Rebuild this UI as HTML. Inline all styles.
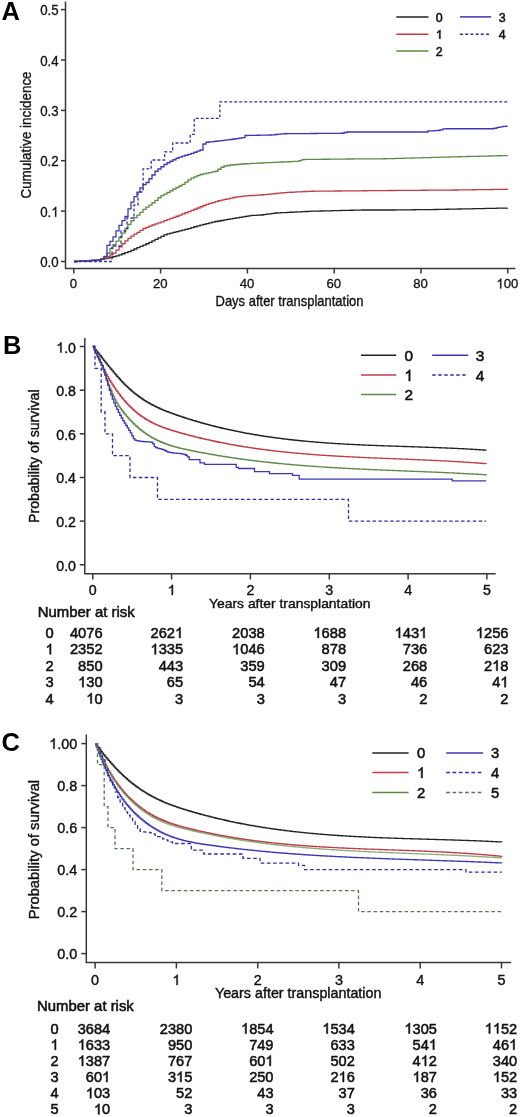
<!DOCTYPE html>
<html><head><meta charset="utf-8"><style>
html,body{margin:0;padding:0;background:#fff;width:520px;height:1117px;overflow:hidden;}
svg{display:block;will-change:transform;font-family:"Liberation Sans", sans-serif;}
</style></head><body>
<svg width="520" height="1117" viewBox="0 0 520 1117" font-family='"Liberation Sans", sans-serif'><rect width="520" height="1117" fill="#fff"/><text x="1.50" y="20.00" font-size="25.5" text-anchor="start" font-weight="bold" fill="#000">A</text>
<line x1="65.5" y1="1.5" x2="65.5" y2="268.5" stroke="#383838" stroke-width="1.5"/>
<line x1="65.0" y1="268.5" x2="515.5" y2="268.5" stroke="#383838" stroke-width="1.5"/>
<line x1="61.0" y1="261.5" x2="65.5" y2="261.5" stroke="#383838" stroke-width="1.5"/>
<g transform="translate(58.70 0) scale(0.95 1)">
<text x="0.00" y="267.20" font-size="14.0" text-anchor="end" fill="#111" stroke="#111" stroke-width="0.3">0.0</text>
</g>
<line x1="61.0" y1="211.1" x2="65.5" y2="211.1" stroke="#383838" stroke-width="1.5"/>
<g transform="translate(58.70 0) scale(0.95 1)">
<text x="0.00" y="216.82" font-size="14.0" text-anchor="end" fill="#111" stroke="#111" stroke-width="0.3">0. </text>
<path d="M583 0H763V1472H645Q598 1377 485 1276Q372 1175 221 1104V930Q306 961 412 1023Q518 1085 583 1147Z" transform="translate(-7.79 216.82) scale(0.006836 -0.006836)" fill="#111" stroke="#111" stroke-width="43.9"/>
</g>
<line x1="61.0" y1="160.7" x2="65.5" y2="160.7" stroke="#383838" stroke-width="1.5"/>
<g transform="translate(58.70 0) scale(0.95 1)">
<text x="0.00" y="166.44" font-size="14.0" text-anchor="end" fill="#111" stroke="#111" stroke-width="0.3">0.2</text>
</g>
<line x1="61.0" y1="110.4" x2="65.5" y2="110.4" stroke="#383838" stroke-width="1.5"/>
<g transform="translate(58.70 0) scale(0.95 1)">
<text x="0.00" y="116.06" font-size="14.0" text-anchor="end" fill="#111" stroke="#111" stroke-width="0.3">0.3</text>
</g>
<line x1="61.0" y1="60.0" x2="65.5" y2="60.0" stroke="#383838" stroke-width="1.5"/>
<g transform="translate(58.70 0) scale(0.95 1)">
<text x="0.00" y="65.68" font-size="14.0" text-anchor="end" fill="#111" stroke="#111" stroke-width="0.3">0.4</text>
</g>
<line x1="61.0" y1="9.6" x2="65.5" y2="9.6" stroke="#383838" stroke-width="1.5"/>
<g transform="translate(58.70 0) scale(0.95 1)">
<text x="0.00" y="15.30" font-size="14.0" text-anchor="end" fill="#111" stroke="#111" stroke-width="0.3">0.5</text>
</g>
<line x1="73.8" y1="268.5" x2="73.8" y2="273.5" stroke="#383838" stroke-width="1.5"/>
<g transform="translate(73.40 0) scale(0.97 1)">
<text x="0.00" y="288.40" font-size="13.6" text-anchor="middle" fill="#111" stroke="#111" stroke-width="0.3">0</text>
</g>
<line x1="160.6" y1="268.5" x2="160.6" y2="273.5" stroke="#383838" stroke-width="1.5"/>
<g transform="translate(160.20 0) scale(0.97 1)">
<text x="0.00" y="288.40" font-size="13.6" text-anchor="middle" fill="#111" stroke="#111" stroke-width="0.3">20</text>
</g>
<line x1="247.4" y1="268.5" x2="247.4" y2="273.5" stroke="#383838" stroke-width="1.5"/>
<g transform="translate(247.00 0) scale(0.97 1)">
<text x="0.00" y="288.40" font-size="13.6" text-anchor="middle" fill="#111" stroke="#111" stroke-width="0.3">40</text>
</g>
<line x1="334.2" y1="268.5" x2="334.2" y2="273.5" stroke="#383838" stroke-width="1.5"/>
<g transform="translate(333.80 0) scale(0.97 1)">
<text x="0.00" y="288.40" font-size="13.6" text-anchor="middle" fill="#111" stroke="#111" stroke-width="0.3">60</text>
</g>
<line x1="421.0" y1="268.5" x2="421.0" y2="273.5" stroke="#383838" stroke-width="1.5"/>
<g transform="translate(420.60 0) scale(0.97 1)">
<text x="0.00" y="288.40" font-size="13.6" text-anchor="middle" fill="#111" stroke="#111" stroke-width="0.3">80</text>
</g>
<line x1="507.8" y1="268.5" x2="507.8" y2="273.5" stroke="#383838" stroke-width="1.5"/>
<g transform="translate(507.40 0) scale(0.97 1)">
<text x="0.00" y="288.40" font-size="13.6" text-anchor="middle" fill="#111" stroke="#111" stroke-width="0.3"> 00</text>
<path d="M583 0H763V1472H645Q598 1377 485 1276Q372 1175 221 1104V930Q306 961 412 1023Q518 1085 583 1147Z" transform="translate(-11.35 288.40) scale(0.006641 -0.006641)" fill="#111" stroke="#111" stroke-width="45.2"/>
</g>
<text x="289.50" y="305.80" font-size="14.3" text-anchor="middle" textLength="148" lengthAdjust="spacingAndGlyphs" fill="#111" stroke="#111" stroke-width="0.35">Days after transplantation</text>
<text x="30.90" y="135.00" font-size="14.2" text-anchor="middle" textLength="127" lengthAdjust="spacingAndGlyphs" transform="rotate(-90 30.9 135.0)" fill="#111" stroke="#111" stroke-width="0.35">Cumulative incidence</text>
<line x1="396.3" y1="16.9" x2="428.5" y2="16.9" stroke="#222222" stroke-width="1.5"/>
<text x="439.20" y="21.50" font-size="12.4" text-anchor="middle" fill="#111" stroke="#111" stroke-width="0.55">0</text>
<line x1="396.3" y1="34.2" x2="428.5" y2="34.2" stroke="#c23c48" stroke-width="1.5"/>
<path d="M583 0H763V1472H645Q598 1377 485 1276Q372 1175 221 1104V930Q306 961 412 1023Q518 1085 583 1147Z" transform="translate(435.75 38.80) scale(0.006055 -0.006055)" fill="#111" stroke="#111" stroke-width="90.8"/>
<line x1="396.3" y1="50.9" x2="428.5" y2="50.9" stroke="#5e8a48" stroke-width="1.5"/>
<text x="439.20" y="55.50" font-size="12.4" text-anchor="middle" fill="#111" stroke="#111" stroke-width="0.55">2</text>
<line x1="460.0" y1="16.9" x2="491.3" y2="16.9" stroke="#3b37b2" stroke-width="1.5"/>
<text x="502.10" y="21.50" font-size="12.4" text-anchor="middle" fill="#111" stroke="#111" stroke-width="0.55">3</text>
<line x1="460.0" y1="34.3" x2="491.3" y2="34.3" stroke="#332f9e" stroke-width="1.5" stroke-dasharray="3,2.2"/>
<text x="502.10" y="38.90" font-size="12.4" text-anchor="middle" fill="#111" stroke="#111" stroke-width="0.55">4</text>
<path d="M74.00,261.50H77.00V261.33H80.00V261.16H83.00V260.99H86.00V260.81H89.00V260.64H92.00V260.47H95.00V260.30H98.00V259.77H101.00V259.24H104.00V258.72H107.00V258.10H110.00V257.34H113.00V256.58H116.00V255.83H119.00V254.82H122.00V253.76H125.00V252.71H128.00V251.60H131.00V250.29H134.00V248.98H137.00V247.68H140.00V246.37H143.00V245.05H146.00V243.73H149.00V242.40H152.00V240.92H155.00V239.44H158.00V237.94H161.00V236.42H164.00V234.91H167.00V233.92H170.00V233.21H173.00V232.47H176.00V231.72H179.00V230.96H182.00V230.21H185.00V229.45H188.00V228.56H191.00V227.67H194.00V226.77H197.00V225.88H200.00V225.05H203.00V224.29H206.00V223.54H209.00V222.78H212.00V222.03H215.00V221.51H218.00V220.99H221.00V220.48H224.00V219.97H227.00V219.45H230.00V218.90H233.00V218.36H236.00V217.83H239.00V217.33H242.00V216.83H245.00V216.33H248.00V215.83H251.00V215.45H254.00V215.30H257.00V215.15H260.00V215.00H263.00V214.60H266.00V214.20H269.00V213.80H272.00V213.40H275.00V213.00H278.00V212.85H281.00V212.70H284.00V212.55H287.00V212.40H290.00V212.25H293.00V212.10H296.00V211.95H299.00V211.80H302.00V211.65H305.00V211.50H308.00V211.35H311.00V211.22H314.00V211.15H317.00V211.07H320.00V211.00H323.00V210.93H326.00V210.85H329.00V210.78H332.00V210.70H335.00V210.62H338.00V210.55H341.00V210.47H344.00V210.40H347.00V210.32H350.00V210.25H353.00V210.18H356.00V210.10H359.00V210.03H362.00V210.00H365.00V210.00H368.00V210.00H371.00V210.00H374.00V210.00H377.00V210.00H380.00V210.00H383.00V210.00H386.00V210.00H389.00V210.00H392.00V209.98H395.00V209.94H398.00V209.91H401.00V209.88H404.00V209.84H407.00V209.81H410.00V209.78H413.00V209.74H416.00V209.71H419.00V209.68H422.00V209.64H425.00V209.61H428.00V209.58H431.00V209.54H434.00V209.51H437.00V209.46H440.00V209.40H443.00V209.33H446.00V209.27H449.00V209.21H452.00V209.15H455.00V209.09H458.00V209.02H461.00V208.96H464.00V208.90H467.00V208.84H470.00V208.78H473.00V208.71H476.00V208.65H479.00V208.59H482.00V208.53H485.00V208.47H488.00V208.40H491.00V208.34H494.00V208.28H497.00V208.22H500.00V208.16H503.00V208.09H506.00V208.03H507.50V208.00" fill="none" stroke="#222222" stroke-width="1.3" stroke-linejoin="miter" stroke-linecap="butt"/>
<path d="M74.00,261.50H77.00V261.36H80.00V261.21H83.00V261.07H86.00V260.93H89.00V260.79H92.00V260.64H95.00V260.50H98.00V259.61H101.00V258.72H104.00V257.83H107.00V256.60H110.00V254.83H113.00V253.07H116.00V250.11H119.00V246.73H122.00V243.75H125.00V240.88H128.00V238.46H131.00V236.04H134.00V234.17H137.00V232.36H140.00V230.46H143.00V228.50H146.00V227.29H149.00V226.08H152.00V225.01H155.00V223.94H158.00V222.89H161.00V221.82H164.00V220.68H167.00V219.56H170.00V218.45H173.00V217.34H176.00V216.23H179.00V215.10H182.00V213.93H185.00V212.76H188.00V211.58H191.00V210.41H194.00V209.23H197.00V208.00H200.00V206.75H203.00V205.50H206.00V204.32H209.00V203.43H212.00V202.53H215.00V201.63H218.00V200.74H221.00V200.04H224.00V199.41H227.00V198.78H230.00V198.15H233.00V197.52H236.00V196.97H239.00V196.58H242.00V196.19H245.00V195.80H248.00V195.64H251.00V195.48H254.00V195.32H257.00V195.16H260.00V195.00H263.00V194.70H266.00V194.40H269.00V194.10H272.00V193.80H275.00V193.50H278.00V193.20H281.00V192.90H284.00V192.60H287.00V192.40H290.00V192.25H293.00V192.10H296.00V191.95H299.00V191.80H302.00V191.65H305.00V191.50H308.00V191.35H311.00V191.24H314.00V191.21H317.00V191.18H320.00V191.16H323.00V191.13H326.00V191.10H329.00V191.07H332.00V191.04H335.00V191.02H338.00V190.99H341.00V190.96H344.00V190.93H347.00V190.90H350.00V190.88H353.00V190.85H356.00V190.82H359.00V190.79H362.00V190.76H365.00V190.73H368.00V190.71H371.00V190.68H374.00V190.65H377.00V190.62H380.00V190.59H383.00V190.57H386.00V190.54H389.00V190.51H392.00V190.48H395.00V190.46H398.00V190.44H401.00V190.42H404.00V190.39H407.00V190.37H410.00V190.35H413.00V190.32H416.00V190.30H419.00V190.28H422.00V190.25H425.00V190.23H428.00V190.21H431.00V190.18H434.00V190.16H437.00V190.14H440.00V190.12H443.00V190.09H446.00V190.07H449.00V190.05H452.00V190.02H455.00V190.00H458.00V189.96H461.00V189.91H464.00V189.87H467.00V189.83H470.00V189.79H473.00V189.74H476.00V189.70H479.00V189.66H482.00V189.61H485.00V189.57H488.00V189.53H491.00V189.49H494.00V189.44H497.00V189.40H500.00V189.36H503.00V189.31H506.00V189.27H507.50V189.25" fill="none" stroke="#c23c48" stroke-width="1.3" stroke-linejoin="miter" stroke-linecap="butt"/>
<path d="M74.00,261.50H77.00V261.27H80.00V261.04H83.00V260.81H86.00V260.58H89.00V260.35H92.00V260.12H95.00V259.88H98.00V259.65H101.00V258.76H104.00V256.53H107.00V253.27H110.00V248.46H113.00V244.68H116.00V241.15H119.00V237.24H122.00V233.05H125.00V228.55H128.00V224.43H131.00V220.74H134.00V217.60H137.00V215.04H140.00V212.41H143.00V209.47H146.00V207.09H149.00V205.07H152.00V202.77H155.00V200.33H158.00V197.74H161.00V195.54H164.00V194.16H167.00V192.52H170.00V190.76H173.00V189.00H176.00V187.50H179.00V186.00H182.00V184.28H185.00V182.11H188.00V179.94H191.00V178.10H194.00V176.90H197.00V175.70H200.00V174.50H203.00V173.85H206.00V173.20H209.00V172.55H212.00V171.90H215.00V171.25H218.00V169.25H221.00V167.25H224.00V166.00H227.00V165.50H230.00V165.00H233.00V164.75H236.00V164.50H239.00V164.25H242.00V164.00H245.00V163.75H248.00V163.60H251.00V163.45H254.00V163.30H257.00V163.15H260.00V163.00H263.00V162.86H266.00V162.72H269.00V162.58H272.00V162.44H275.00V162.30H278.00V162.16H281.00V162.02H284.00V161.88H287.00V161.74H290.00V161.60H293.00V161.46H296.00V161.32H299.00V160.72H302.00V159.68H305.00V159.47H308.00V159.44H311.00V159.41H314.00V159.37H317.00V159.34H320.00V159.31H323.00V159.27H326.00V159.24H329.00V159.21H332.00V159.17H335.00V159.14H338.00V159.11H341.00V159.07H344.00V159.04H347.00V159.01H350.00V158.98H353.00V158.96H356.00V158.94H359.00V158.92H362.00V158.90H365.00V158.88H368.00V158.86H371.00V158.84H374.00V158.82H377.00V158.80H380.00V158.78H383.00V158.76H386.00V158.72H389.00V158.64H392.00V158.55H395.00V158.47H398.00V158.39H401.00V158.30H404.00V158.22H407.00V158.13H410.00V158.05H413.00V157.97H416.00V157.88H419.00V157.80H422.00V157.71H425.00V157.63H428.00V157.55H431.00V157.46H434.00V157.38H437.00V157.29H440.00V157.21H443.00V157.13H446.00V157.04H449.00V156.96H452.00V156.89H455.00V156.81H458.00V156.74H461.00V156.66H464.00V156.59H467.00V156.51H470.00V156.44H473.00V156.36H476.00V156.29H479.00V156.21H482.00V156.14H485.00V156.06H488.00V155.99H491.00V155.91H494.00V155.84H497.00V155.76H500.00V155.69H503.00V155.61H506.00V155.54H507.50V155.50" fill="none" stroke="#5e8a48" stroke-width="1.3" stroke-linejoin="miter" stroke-linecap="butt"/>
<path d="M74.00,261.50H77.00V261.33H80.00V261.15H83.00V260.98H86.00V260.81H89.00V260.63H92.00V260.46H95.00V260.29H98.00V260.12H101.00V259.09H104.00V256.36H107.00V245.46H110.00V241.34H113.00V236.89H116.00V230.81H119.00V225.47H122.00V220.69H125.00V216.50H128.00V208.83H131.00V202.12H134.00V196.68H137.00V192.08H140.00V187.91H143.00V184.68H146.00V182.50H149.00V178.75H152.00V175.00H155.00V171.25H158.00V169.00H161.00V166.75H164.00V164.50H167.00V162.75H170.00V161.25H173.00V159.75H176.00V158.25H179.00V157.05H182.00V156.15H185.00V155.25H188.00V154.35H191.00V153.38H194.00V152.25H197.00V151.12H200.00V150.00H203.00V144.00H206.00V142.25H209.00V141.92H212.00V141.58H215.00V141.25H218.00V140.90H221.00V140.55H224.00V140.20H227.00V139.85H230.00V139.50H233.00V139.02H236.00V138.54H239.00V138.06H242.00V137.58H245.00V135.50H248.00V135.44H251.00V135.38H254.00V135.32H257.00V135.26H260.00V135.20H263.00V135.14H266.00V135.08H269.00V135.02H272.00V134.80H275.00V134.50H278.00V134.20H281.00V133.90H284.00V133.74H287.00V133.71H290.00V133.69H293.00V133.66H296.00V133.64H299.00V133.61H302.00V133.59H305.00V133.56H308.00V133.54H311.00V133.51H314.00V133.49H317.00V133.46H320.00V133.44H323.00V133.41H326.00V133.39H329.00V133.36H332.00V133.34H335.00V133.31H338.00V133.29H341.00V133.26H344.00V132.50H347.00V132.00H350.00V132.00H353.00V132.00H356.00V132.00H359.00V132.00H362.00V132.00H365.00V132.00H368.00V132.00H371.00V132.00H374.00V132.00H377.00V132.00H380.00V132.00H383.00V132.00H386.00V132.00H389.00V132.00H392.00V132.00H395.00V132.00H398.00V132.00H401.00V132.00H404.00V132.00H407.00V132.00H410.00V132.00H413.00V132.00H416.00V132.00H419.00V132.00H422.00V132.00H425.00V132.00H428.00V130.92H431.00V130.79H434.00V130.66H437.00V130.52H440.00V129.80H443.00V128.96H446.00V128.75H449.00V128.75H452.00V128.75H455.00V128.75H458.00V128.75H461.00V128.75H464.00V128.75H467.00V128.75H470.00V128.75H473.00V128.75H476.00V128.75H479.00V128.75H482.00V128.75H485.00V128.75H488.00V128.75H491.00V128.75H494.00V128.25H497.00V127.38H500.00V126.88H503.00V126.38H506.00V126.25H507.50V126.25" fill="none" stroke="#3b37b2" stroke-width="1.3" stroke-linejoin="miter" stroke-linecap="butt"/>
<path d="M74.0,261.5H112.0V246.0H121.0V231.0H127.0V218.0H134.0V205.0H138.0V192.0H143.1V168.9H151.2V160.0H164.6V151.9H172.7V143.0H190.2V134.4H194.2V118.3H219.8V101.8H507.8V101.8" fill="none" stroke="#332f9e" stroke-width="1.3" stroke-linejoin="miter" stroke-linecap="butt" stroke-dasharray="2.9,2.1"/>
<text x="3.00" y="353.60" font-size="25.5" text-anchor="start" font-weight="bold" fill="#000">B</text>
<line x1="84.8" y1="338.0" x2="84.8" y2="574.0" stroke="#383838" stroke-width="1.5"/>
<line x1="84.3" y1="573.8" x2="495.7" y2="573.8" stroke="#383838" stroke-width="1.5"/>
<line x1="79.8" y1="564.8" x2="84.8" y2="564.8" stroke="#383838" stroke-width="1.5"/>
<text x="76.00" y="570.80" font-size="14.2" text-anchor="end" fill="#111" stroke="#111" stroke-width="0.4">0.0</text>
<line x1="79.8" y1="521.1" x2="84.8" y2="521.1" stroke="#383838" stroke-width="1.5"/>
<text x="76.00" y="527.14" font-size="14.2" text-anchor="end" fill="#111" stroke="#111" stroke-width="0.4">0.2</text>
<line x1="79.8" y1="477.5" x2="84.8" y2="477.5" stroke="#383838" stroke-width="1.5"/>
<text x="76.00" y="483.48" font-size="14.2" text-anchor="end" fill="#111" stroke="#111" stroke-width="0.4">0.4</text>
<line x1="79.8" y1="433.8" x2="84.8" y2="433.8" stroke="#383838" stroke-width="1.5"/>
<text x="76.00" y="439.82" font-size="14.2" text-anchor="end" fill="#111" stroke="#111" stroke-width="0.4">0.6</text>
<line x1="79.8" y1="390.2" x2="84.8" y2="390.2" stroke="#383838" stroke-width="1.5"/>
<text x="76.00" y="396.16" font-size="14.2" text-anchor="end" fill="#111" stroke="#111" stroke-width="0.4">0.8</text>
<line x1="79.8" y1="346.5" x2="84.8" y2="346.5" stroke="#383838" stroke-width="1.5"/>
<text x="76.00" y="352.50" font-size="14.2" text-anchor="end" fill="#111" stroke="#111" stroke-width="0.4"> .0</text>
<path d="M583 0H763V1472H645Q598 1377 485 1276Q372 1175 221 1104V930Q306 961 412 1023Q518 1085 583 1147Z" transform="translate(56.26 352.50) scale(0.006934 -0.006934)" fill="#111" stroke="#111" stroke-width="57.7"/>
<line x1="92.8" y1="573.8" x2="92.8" y2="579.5" stroke="#383838" stroke-width="1.5"/>
<text x="92.80" y="595.00" font-size="14.2" text-anchor="middle" fill="#111" stroke="#111" stroke-width="0.4">0</text>
<line x1="171.6" y1="573.8" x2="171.6" y2="579.5" stroke="#383838" stroke-width="1.5"/>
<path d="M583 0H763V1472H645Q598 1377 485 1276Q372 1175 221 1104V930Q306 961 412 1023Q518 1085 583 1147Z" transform="translate(167.67 595.00) scale(0.006934 -0.006934)" fill="#111" stroke="#111" stroke-width="57.7"/>
<line x1="250.4" y1="573.8" x2="250.4" y2="579.5" stroke="#383838" stroke-width="1.5"/>
<text x="250.44" y="595.00" font-size="14.2" text-anchor="middle" fill="#111" stroke="#111" stroke-width="0.4">2</text>
<line x1="329.3" y1="573.8" x2="329.3" y2="579.5" stroke="#383838" stroke-width="1.5"/>
<text x="329.26" y="595.00" font-size="14.2" text-anchor="middle" fill="#111" stroke="#111" stroke-width="0.4">3</text>
<line x1="408.1" y1="573.8" x2="408.1" y2="579.5" stroke="#383838" stroke-width="1.5"/>
<text x="408.08" y="595.00" font-size="14.2" text-anchor="middle" fill="#111" stroke="#111" stroke-width="0.4">4</text>
<line x1="486.9" y1="573.8" x2="486.9" y2="579.5" stroke="#383838" stroke-width="1.5"/>
<text x="486.90" y="595.00" font-size="14.2" text-anchor="middle" fill="#111" stroke="#111" stroke-width="0.4">5</text>
<text x="289.80" y="607.80" font-size="13.6" text-anchor="middle" textLength="161.5" lengthAdjust="spacingAndGlyphs" fill="#111" stroke="#111" stroke-width="0.4">Years after transplantation</text>
<text x="38.90" y="456.20" font-size="14" text-anchor="middle" textLength="133.5" lengthAdjust="spacingAndGlyphs" transform="rotate(-90 38.9 456.2)" fill="#111" stroke="#111" stroke-width="0.4">Probability of survival</text>
<text x="37.80" y="616.90" font-size="14.9" text-anchor="start" fill="#111" stroke="#111" stroke-width="0.55">Number at risk</text>
<text x="49.60" y="637.90" font-size="14.7" text-anchor="middle" fill="#111" stroke="#111" stroke-width="0.55">0</text>
<text x="102.60" y="637.90" font-size="14.7" text-anchor="end" fill="#111" stroke="#111" stroke-width="0.55">4076</text>
<text x="183.20" y="637.90" font-size="14.7" text-anchor="end" fill="#111" stroke="#111" stroke-width="0.55">262 </text>
<path d="M583 0H763V1472H645Q598 1377 485 1276Q372 1175 221 1104V930Q306 961 412 1023Q518 1085 583 1147Z" transform="translate(175.02 637.90) scale(0.007178 -0.007178)" fill="#111" stroke="#111" stroke-width="76.6"/>
<text x="264.80" y="637.90" font-size="14.7" text-anchor="end" fill="#111" stroke="#111" stroke-width="0.55">2038</text>
<text x="346.10" y="637.90" font-size="14.7" text-anchor="end" fill="#111" stroke="#111" stroke-width="0.55"> 688</text>
<path d="M583 0H763V1472H645Q598 1377 485 1276Q372 1175 221 1104V930Q306 961 412 1023Q518 1085 583 1147Z" transform="translate(313.40 637.90) scale(0.007178 -0.007178)" fill="#111" stroke="#111" stroke-width="76.6"/>
<text x="427.30" y="637.90" font-size="14.7" text-anchor="end" fill="#111" stroke="#111" stroke-width="0.55"> 43 </text>
<path d="M583 0H763V1472H645Q598 1377 485 1276Q372 1175 221 1104V930Q306 961 412 1023Q518 1085 583 1147Z" transform="translate(394.60 637.90) scale(0.007178 -0.007178)" fill="#111" stroke="#111" stroke-width="76.6"/>
<path d="M583 0H763V1472H645Q598 1377 485 1276Q372 1175 221 1104V930Q306 961 412 1023Q518 1085 583 1147Z" transform="translate(419.12 637.90) scale(0.007178 -0.007178)" fill="#111" stroke="#111" stroke-width="76.6"/>
<text x="508.50" y="637.90" font-size="14.7" text-anchor="end" fill="#111" stroke="#111" stroke-width="0.55"> 256</text>
<path d="M583 0H763V1472H645Q598 1377 485 1276Q372 1175 221 1104V930Q306 961 412 1023Q518 1085 583 1147Z" transform="translate(475.80 637.90) scale(0.007178 -0.007178)" fill="#111" stroke="#111" stroke-width="76.6"/>
<path d="M583 0H763V1472H645Q598 1377 485 1276Q372 1175 221 1104V930Q306 961 412 1023Q518 1085 583 1147Z" transform="translate(45.51 654.32) scale(0.007178 -0.007178)" fill="#111" stroke="#111" stroke-width="76.6"/>
<text x="102.60" y="654.32" font-size="14.7" text-anchor="end" fill="#111" stroke="#111" stroke-width="0.55">2352</text>
<text x="183.20" y="654.32" font-size="14.7" text-anchor="end" fill="#111" stroke="#111" stroke-width="0.55"> 335</text>
<path d="M583 0H763V1472H645Q598 1377 485 1276Q372 1175 221 1104V930Q306 961 412 1023Q518 1085 583 1147Z" transform="translate(150.50 654.32) scale(0.007178 -0.007178)" fill="#111" stroke="#111" stroke-width="76.6"/>
<text x="264.80" y="654.32" font-size="14.7" text-anchor="end" fill="#111" stroke="#111" stroke-width="0.55"> 046</text>
<path d="M583 0H763V1472H645Q598 1377 485 1276Q372 1175 221 1104V930Q306 961 412 1023Q518 1085 583 1147Z" transform="translate(232.10 654.32) scale(0.007178 -0.007178)" fill="#111" stroke="#111" stroke-width="76.6"/>
<text x="346.10" y="654.32" font-size="14.7" text-anchor="end" fill="#111" stroke="#111" stroke-width="0.55">878</text>
<text x="427.30" y="654.32" font-size="14.7" text-anchor="end" fill="#111" stroke="#111" stroke-width="0.55">736</text>
<text x="508.50" y="654.32" font-size="14.7" text-anchor="end" fill="#111" stroke="#111" stroke-width="0.55">623</text>
<text x="49.60" y="670.74" font-size="14.7" text-anchor="middle" fill="#111" stroke="#111" stroke-width="0.55">2</text>
<text x="102.60" y="670.74" font-size="14.7" text-anchor="end" fill="#111" stroke="#111" stroke-width="0.55">850</text>
<text x="183.20" y="670.74" font-size="14.7" text-anchor="end" fill="#111" stroke="#111" stroke-width="0.55">443</text>
<text x="264.80" y="670.74" font-size="14.7" text-anchor="end" fill="#111" stroke="#111" stroke-width="0.55">359</text>
<text x="346.10" y="670.74" font-size="14.7" text-anchor="end" fill="#111" stroke="#111" stroke-width="0.55">309</text>
<text x="427.30" y="670.74" font-size="14.7" text-anchor="end" fill="#111" stroke="#111" stroke-width="0.55">268</text>
<text x="508.50" y="670.74" font-size="14.7" text-anchor="end" fill="#111" stroke="#111" stroke-width="0.55">2 8</text>
<path d="M583 0H763V1472H645Q598 1377 485 1276Q372 1175 221 1104V930Q306 961 412 1023Q518 1085 583 1147Z" transform="translate(492.15 670.74) scale(0.007178 -0.007178)" fill="#111" stroke="#111" stroke-width="76.6"/>
<text x="49.60" y="687.16" font-size="14.7" text-anchor="middle" fill="#111" stroke="#111" stroke-width="0.55">3</text>
<text x="102.60" y="687.16" font-size="14.7" text-anchor="end" fill="#111" stroke="#111" stroke-width="0.55"> 30</text>
<path d="M583 0H763V1472H645Q598 1377 485 1276Q372 1175 221 1104V930Q306 961 412 1023Q518 1085 583 1147Z" transform="translate(78.07 687.16) scale(0.007178 -0.007178)" fill="#111" stroke="#111" stroke-width="76.6"/>
<text x="183.20" y="687.16" font-size="14.7" text-anchor="end" fill="#111" stroke="#111" stroke-width="0.55">65</text>
<text x="264.80" y="687.16" font-size="14.7" text-anchor="end" fill="#111" stroke="#111" stroke-width="0.55">54</text>
<text x="346.10" y="687.16" font-size="14.7" text-anchor="end" fill="#111" stroke="#111" stroke-width="0.55">47</text>
<text x="427.30" y="687.16" font-size="14.7" text-anchor="end" fill="#111" stroke="#111" stroke-width="0.55">46</text>
<text x="508.50" y="687.16" font-size="14.7" text-anchor="end" fill="#111" stroke="#111" stroke-width="0.55">4 </text>
<path d="M583 0H763V1472H645Q598 1377 485 1276Q372 1175 221 1104V930Q306 961 412 1023Q518 1085 583 1147Z" transform="translate(500.32 687.16) scale(0.007178 -0.007178)" fill="#111" stroke="#111" stroke-width="76.6"/>
<text x="49.60" y="703.58" font-size="14.7" text-anchor="middle" fill="#111" stroke="#111" stroke-width="0.55">4</text>
<text x="102.60" y="703.58" font-size="14.7" text-anchor="end" fill="#111" stroke="#111" stroke-width="0.55"> 0</text>
<path d="M583 0H763V1472H645Q598 1377 485 1276Q372 1175 221 1104V930Q306 961 412 1023Q518 1085 583 1147Z" transform="translate(86.25 703.58) scale(0.007178 -0.007178)" fill="#111" stroke="#111" stroke-width="76.6"/>
<text x="183.20" y="703.58" font-size="14.7" text-anchor="end" fill="#111" stroke="#111" stroke-width="0.55">3</text>
<text x="264.80" y="703.58" font-size="14.7" text-anchor="end" fill="#111" stroke="#111" stroke-width="0.55">3</text>
<text x="346.10" y="703.58" font-size="14.7" text-anchor="end" fill="#111" stroke="#111" stroke-width="0.55">3</text>
<text x="427.30" y="703.58" font-size="14.7" text-anchor="end" fill="#111" stroke="#111" stroke-width="0.55">2</text>
<text x="508.50" y="703.58" font-size="14.7" text-anchor="end" fill="#111" stroke="#111" stroke-width="0.55">2</text>
<line x1="361.0" y1="355.2" x2="396.2" y2="355.2" stroke="#222222" stroke-width="1.5"/>
<text x="408.70" y="361.10" font-size="15.4" text-anchor="middle" fill="#111" stroke="#111" stroke-width="0.55">0</text>
<line x1="361.0" y1="375.0" x2="396.2" y2="375.0" stroke="#c23c48" stroke-width="1.5"/>
<path d="M583 0H763V1472H645Q598 1377 485 1276Q372 1175 221 1104V930Q306 961 412 1023Q518 1085 583 1147Z" transform="translate(404.42 380.90) scale(0.007520 -0.007520)" fill="#111" stroke="#111" stroke-width="73.1"/>
<line x1="361.0" y1="394.5" x2="396.2" y2="394.5" stroke="#5e8a48" stroke-width="1.5"/>
<text x="408.70" y="400.40" font-size="15.4" text-anchor="middle" fill="#111" stroke="#111" stroke-width="0.55">2</text>
<line x1="432.2" y1="355.2" x2="468.3" y2="355.2" stroke="#3b37b2" stroke-width="1.5"/>
<text x="480.00" y="361.10" font-size="15.4" text-anchor="middle" fill="#111" stroke="#111" stroke-width="0.55">3</text>
<line x1="432.2" y1="375.0" x2="468.3" y2="375.0" stroke="#332f9e" stroke-width="1.5" stroke-dasharray="3.5,2.5"/>
<text x="480.00" y="380.90" font-size="15.4" text-anchor="middle" fill="#111" stroke="#111" stroke-width="0.55">4</text>
<path d="M92.80,346.50H94.00V348.02H95.20V349.56H96.40V351.10H97.60V352.64H98.80V354.18H100.00V355.72H101.20V357.26H102.40V358.79H103.60V360.31H104.80V361.83H106.00V363.34H107.20V364.84H108.40V366.33H109.60V367.80H110.80V369.26H112.00V370.71H113.20V372.14H114.40V373.56H115.60V374.95H116.80V376.33H118.00V377.68H119.20V379.01H120.40V380.32H121.60V381.60H122.80V382.86H124.00V384.08H125.20V385.28H126.40V386.45H127.60V387.59H128.80V388.70H130.00V389.77H131.20V390.82H132.40V391.84H133.60V392.83H134.80V393.79H136.00V394.72H137.20V395.63H138.40V396.52H139.60V397.37H140.80V398.21H142.00V399.02H143.20V399.80H144.40V400.57H145.60V401.31H146.80V402.03H148.00V402.74H149.20V403.42H150.40V404.08H151.60V404.73H152.80V405.35H154.00V405.96H155.20V406.56H156.40V407.14H157.60V407.70H158.80V408.25H160.00V408.79H161.20V409.31H162.40V409.82H163.60V410.32H164.80V410.81H166.00V411.28H167.20V411.75H168.40V412.21H169.60V412.66H170.80V413.10H172.00V413.54H173.20V413.97H174.40V414.40H175.60V414.81H176.80V415.23H178.00V415.64H179.20V416.05H180.40V416.45H181.60V416.85H182.80V417.25H184.00V417.64H185.20V418.03H186.40V418.41H187.60V418.79H188.80V419.17H190.00V419.54H191.20V419.91H192.40V420.28H193.60V420.64H194.80V421.00H196.00V421.35H197.20V421.71H198.40V422.05H199.60V422.40H200.80V422.74H202.00V423.08H203.20V423.41H204.40V423.74H205.60V424.07H206.80V424.39H208.00V424.71H209.20V425.03H210.40V425.34H211.60V425.65H212.80V425.96H214.00V426.26H215.20V426.56H216.40V426.86H217.60V427.15H218.80V427.44H220.00V427.73H221.20V428.01H222.40V428.29H223.60V428.57H224.80V428.85H226.00V429.12H227.20V429.39H228.40V429.65H229.60V429.91H230.80V430.17H232.00V430.43H233.20V430.68H234.40V430.93H235.60V431.18H236.80V431.43H238.00V431.67H239.20V431.91H240.40V432.14H241.60V432.38H242.80V432.61H244.00V432.83H245.20V433.06H246.40V433.28H247.60V433.50H248.80V433.72H250.00V433.93H251.20V434.14H252.40V434.35H253.60V434.56H254.80V434.76H256.00V434.96H257.20V435.16H258.40V435.35H259.60V435.55H260.80V435.74H262.00V435.93H263.20V436.11H264.40V436.30H265.60V436.48H266.80V436.65H268.00V436.83H269.20V437.00H270.40V437.18H271.60V437.35H272.80V437.51H274.00V437.68H275.20V437.84H276.40V438.00H277.60V438.16H278.80V438.31H280.00V438.47H281.20V438.62H282.40V438.77H283.60V438.91H284.80V439.06H286.00V439.20H287.20V439.34H288.40V439.48H289.60V439.62H290.80V439.75H292.00V439.89H293.20V440.02H294.40V440.15H295.60V440.27H296.80V440.40H298.00V440.52H299.20V440.64H300.40V440.76H301.60V440.88H302.80V441.00H304.00V441.11H305.20V441.22H306.40V441.33H307.60V441.44H308.80V441.55H310.00V441.66H311.20V441.76H312.40V441.86H313.60V441.96H314.80V442.06H316.00V442.16H317.20V442.26H318.40V442.35H319.60V442.45H320.80V442.54H322.00V442.63H323.20V442.72H324.40V442.80H325.60V442.89H326.80V442.98H328.00V443.06H329.20V443.14H330.40V443.22H331.60V443.30H332.80V443.38H334.00V443.46H335.20V443.53H336.40V443.61H337.60V443.68H338.80V443.75H340.00V443.82H341.20V443.89H342.40V443.96H343.60V444.03H344.80V444.10H346.00V444.16H347.20V444.23H348.40V444.29H349.60V444.35H350.80V444.41H352.00V444.47H353.20V444.53H354.40V444.59H355.60V444.65H356.80V444.71H358.00V444.76H359.20V444.82H360.40V444.87H361.60V444.93H362.80V444.98H364.00V445.03H365.20V445.09H366.40V445.14H367.60V445.19H368.80V445.24H370.00V445.28H371.20V445.33H372.40V445.38H373.60V445.43H374.80V445.47H376.00V445.52H377.20V445.57H378.40V445.61H379.60V445.66H380.80V445.70H382.00V445.74H383.20V445.79H384.40V445.83H385.60V445.87H386.80V445.92H388.00V445.96H389.20V446.00H390.40V446.04H391.60V446.08H392.80V446.12H394.00V446.16H395.20V446.20H396.40V446.24H397.60V446.28H398.80V446.32H400.00V446.36H401.20V446.40H402.40V446.44H403.60V446.48H404.80V446.52H406.00V446.56H407.20V446.60H408.40V446.64H409.60V446.68H410.80V446.72H412.00V446.76H413.20V446.80H414.40V446.84H415.60V446.88H416.80V446.92H418.00V446.96H419.20V447.00H420.40V447.04H421.60V447.08H422.80V447.12H424.00V447.16H425.20V447.21H426.40V447.25H427.60V447.29H428.80V447.33H430.00V447.38H431.20V447.42H432.40V447.46H433.60V447.51H434.80V447.55H436.00V447.60H437.20V447.65H438.40V447.69H439.60V447.74H440.80V447.79H442.00V447.84H443.20V447.89H444.40V447.93H445.60V447.98H446.80V448.04H448.00V448.09H449.20V448.14H450.40V448.19H451.60V448.25H452.80V448.30H454.00V448.36H455.20V448.41H456.40V448.47H457.60V448.53H458.80V448.59H460.00V448.65H461.20V448.71H462.40V448.77H463.60V448.83H464.80V448.90H466.00V448.96H467.20V449.03H468.40V449.09H469.60V449.16H470.80V449.23H472.00V449.30H473.20V449.37H474.40V449.44H475.60V449.51H476.80V449.59H478.00V449.67H479.20V449.74H480.40V449.82H481.60V449.90H482.80V449.98H484.00V450.06H485.20V450.15H486.20V450.22" fill="none" stroke="#222222" stroke-width="1.3" stroke-linejoin="miter" stroke-linecap="butt"/>
<path d="M92.80,346.50H94.00V349.36H95.20V352.16H96.40V354.89H97.60V357.55H98.80V360.14H100.00V362.66H101.20V365.11H102.40V367.50H103.60V369.83H104.80V372.09H106.00V374.29H107.20V376.43H108.40V378.51H109.60V380.54H110.80V382.50H112.00V384.41H113.20V386.26H114.40V388.06H115.60V389.80H116.80V391.50H118.00V393.14H119.20V394.73H120.40V396.27H121.60V397.77H122.80V399.22H124.00V400.62H125.20V401.98H126.40V403.29H127.60V404.57H128.80V405.80H130.00V406.99H131.20V408.14H132.40V409.26H133.60V410.33H134.80V411.37H136.00V412.37H137.20V413.34H138.40V414.28H139.60V415.18H140.80V416.05H142.00V416.89H143.20V417.70H144.40V418.48H145.60V419.23H146.80V419.96H148.00V420.65H149.20V421.33H150.40V421.98H151.60V422.60H152.80V423.20H154.00V423.78H155.20V424.34H156.40V424.88H157.60V425.41H158.80V425.91H160.00V426.40H161.20V426.87H162.40V427.32H163.60V427.77H164.80V428.20H166.00V428.61H167.20V429.02H168.40V429.41H169.60V429.80H170.80V430.17H172.00V430.54H173.20V430.91H174.40V431.26H175.60V431.62H176.80V431.97H178.00V432.31H179.20V432.65H180.40V432.99H181.60V433.33H182.80V433.66H184.00V433.99H185.20V434.32H186.40V434.64H187.60V434.96H188.80V435.28H190.00V435.59H191.20V435.90H192.40V436.21H193.60V436.51H194.80V436.81H196.00V437.11H197.20V437.41H198.40V437.70H199.60V437.99H200.80V438.27H202.00V438.56H203.20V438.84H204.40V439.12H205.60V439.39H206.80V439.66H208.00V439.93H209.20V440.20H210.40V440.46H211.60V440.72H212.80V440.98H214.00V441.24H215.20V441.49H216.40V441.74H217.60V441.99H218.80V442.23H220.00V442.47H221.20V442.71H222.40V442.95H223.60V443.18H224.80V443.41H226.00V443.64H227.20V443.87H228.40V444.09H229.60V444.31H230.80V444.53H232.00V444.75H233.20V444.96H234.40V445.17H235.60V445.38H236.80V445.59H238.00V445.79H239.20V445.99H240.40V446.19H241.60V446.39H242.80V446.59H244.00V446.78H245.20V446.97H246.40V447.16H247.60V447.34H248.80V447.53H250.00V447.71H251.20V447.89H252.40V448.06H253.60V448.24H254.80V448.41H256.00V448.58H257.20V448.75H258.40V448.92H259.60V449.08H260.80V449.24H262.00V449.40H263.20V449.56H264.40V449.72H265.60V449.87H266.80V450.02H268.00V450.17H269.20V450.32H270.40V450.47H271.60V450.61H272.80V450.76H274.00V450.90H275.20V451.04H276.40V451.17H277.60V451.31H278.80V451.44H280.00V451.57H281.20V451.70H282.40V451.83H283.60V451.96H284.80V452.08H286.00V452.21H287.20V452.33H288.40V452.45H289.60V452.57H290.80V452.69H292.00V452.80H293.20V452.92H294.40V453.03H295.60V453.14H296.80V453.25H298.00V453.36H299.20V453.46H300.40V453.57H301.60V453.67H302.80V453.77H304.00V453.87H305.20V453.97H306.40V454.07H307.60V454.17H308.80V454.26H310.00V454.36H311.20V454.45H312.40V454.54H313.60V454.63H314.80V454.72H316.00V454.81H317.20V454.89H318.40V454.98H319.60V455.06H320.80V455.15H322.00V455.23H323.20V455.31H324.40V455.39H325.60V455.47H326.80V455.55H328.00V455.62H329.20V455.70H330.40V455.77H331.60V455.85H332.80V455.92H334.00V455.99H335.20V456.06H336.40V456.13H337.60V456.20H338.80V456.27H340.00V456.33H341.20V456.40H342.40V456.47H343.60V456.53H344.80V456.60H346.00V456.66H347.20V456.72H348.40V456.78H349.60V456.84H350.80V456.90H352.00V456.96H353.20V457.02H354.40V457.08H355.60V457.14H356.80V457.20H358.00V457.25H359.20V457.31H360.40V457.36H361.60V457.42H362.80V457.47H364.00V457.53H365.20V457.58H366.40V457.63H367.60V457.69H368.80V457.74H370.00V457.79H371.20V457.84H372.40V457.89H373.60V457.94H374.80V457.99H376.00V458.04H377.20V458.09H378.40V458.14H379.60V458.19H380.80V458.24H382.00V458.29H383.20V458.34H384.40V458.39H385.60V458.44H386.80V458.48H388.00V458.53H389.20V458.58H390.40V458.63H391.60V458.67H392.80V458.72H394.00V458.77H395.20V458.82H396.40V458.86H397.60V458.91H398.80V458.96H400.00V459.01H401.20V459.05H402.40V459.10H403.60V459.15H404.80V459.20H406.00V459.25H407.20V459.29H408.40V459.34H409.60V459.39H410.80V459.44H412.00V459.49H413.20V459.54H414.40V459.59H415.60V459.64H416.80V459.69H418.00V459.74H419.20V459.79H420.40V459.84H421.60V459.89H422.80V459.94H424.00V460.00H425.20V460.05H426.40V460.10H427.60V460.16H428.80V460.21H430.00V460.26H431.20V460.32H432.40V460.38H433.60V460.43H434.80V460.49H436.00V460.55H437.20V460.60H438.40V460.66H439.60V460.72H440.80V460.78H442.00V460.84H443.20V460.90H444.40V460.97H445.60V461.03H446.80V461.09H448.00V461.16H449.20V461.22H450.40V461.29H451.60V461.35H452.80V461.42H454.00V461.49H455.20V461.56H456.40V461.63H457.60V461.70H458.80V461.77H460.00V461.85H461.20V461.92H462.40V461.99H463.60V462.07H464.80V462.15H466.00V462.22H467.20V462.30H468.40V462.38H469.60V462.47H470.80V462.55H472.00V462.63H473.20V462.72H474.40V462.80H475.60V462.89H476.80V462.98H478.00V463.07H479.20V463.16H480.40V463.25H481.60V463.34H482.80V463.44H484.00V463.53H485.20V463.63H486.20V463.71" fill="none" stroke="#c23c48" stroke-width="1.3" stroke-linejoin="miter" stroke-linecap="butt"/>
<path d="M92.80,346.50H94.00V348.46H95.20V350.73H96.40V353.27H97.60V356.04H98.80V358.99H100.00V362.10H101.20V365.33H102.40V368.64H103.60V371.98H104.80V375.34H106.00V378.66H107.20V381.91H108.40V385.06H109.60V388.09H110.80V391.00H112.00V393.78H113.20V396.41H114.40V398.89H115.60V401.21H116.80V403.36H118.00V405.33H119.20V407.16H120.40V408.86H121.60V410.47H122.80V412.01H124.00V413.50H125.20V414.95H126.40V416.36H127.60V417.73H128.80V419.06H130.00V420.35H131.20V421.59H132.40V422.80H133.60V423.98H134.80V425.11H136.00V426.21H137.20V427.27H138.40V428.30H139.60V429.30H140.80V430.26H142.00V431.19H143.20V432.09H144.40V432.95H145.60V433.79H146.80V434.60H148.00V435.38H149.20V436.13H150.40V436.85H151.60V437.55H152.80V438.22H154.00V438.87H155.20V439.49H156.40V440.09H157.60V440.67H158.80V441.22H160.00V441.76H161.20V442.27H162.40V442.76H163.60V443.24H164.80V443.70H166.00V444.13H167.20V444.56H168.40V444.96H169.60V445.35H170.80V445.73H172.00V446.09H173.20V446.45H174.40V446.78H175.60V447.11H176.80V447.43H178.00V447.73H179.20V448.03H180.40V448.32H181.60V448.60H182.80V448.87H184.00V449.14H185.20V449.40H186.40V449.66H187.60V449.91H188.80V450.16H190.00V450.41H191.20V450.66H192.40V450.90H193.60V451.14H194.80V451.38H196.00V451.62H197.20V451.85H198.40V452.08H199.60V452.31H200.80V452.54H202.00V452.77H203.20V452.99H204.40V453.22H205.60V453.44H206.80V453.65H208.00V453.87H209.20V454.08H210.40V454.30H211.60V454.51H212.80V454.72H214.00V454.92H215.20V455.13H216.40V455.33H217.60V455.53H218.80V455.73H220.00V455.92H221.20V456.12H222.40V456.31H223.60V456.50H224.80V456.69H226.00V456.88H227.20V457.06H228.40V457.25H229.60V457.43H230.80V457.61H232.00V457.79H233.20V457.96H234.40V458.14H235.60V458.31H236.80V458.48H238.00V458.65H239.20V458.82H240.40V458.99H241.60V459.15H242.80V459.31H244.00V459.47H245.20V459.63H246.40V459.79H247.60V459.95H248.80V460.10H250.00V460.25H251.20V460.41H252.40V460.56H253.60V460.70H254.80V460.85H256.00V460.99H257.20V461.14H258.40V461.28H259.60V461.42H260.80V461.56H262.00V461.70H263.20V461.83H264.40V461.97H265.60V462.10H266.80V462.23H268.00V462.36H269.20V462.49H270.40V462.62H271.60V462.75H272.80V462.87H274.00V462.99H275.20V463.12H276.40V463.24H277.60V463.36H278.80V463.48H280.00V463.59H281.20V463.71H282.40V463.82H283.60V463.93H284.80V464.05H286.00V464.16H287.20V464.27H288.40V464.37H289.60V464.48H290.80V464.59H292.00V464.69H293.20V464.79H294.40V464.90H295.60V465.00H296.80V465.10H298.00V465.20H299.20V465.29H300.40V465.39H301.60V465.49H302.80V465.58H304.00V465.67H305.20V465.77H306.40V465.86H307.60V465.95H308.80V466.04H310.00V466.13H311.20V466.21H312.40V466.30H313.60V466.38H314.80V466.47H316.00V466.55H317.20V466.64H318.40V466.72H319.60V466.80H320.80V466.88H322.00V466.96H323.20V467.03H324.40V467.11H325.60V467.19H326.80V467.26H328.00V467.34H329.20V467.41H330.40V467.49H331.60V467.56H332.80V467.63H334.00V467.70H335.20V467.77H336.40V467.84H337.60V467.91H338.80V467.98H340.00V468.05H341.20V468.11H342.40V468.18H343.60V468.24H344.80V468.31H346.00V468.37H347.20V468.44H348.40V468.50H349.60V468.56H350.80V468.62H352.00V468.68H353.20V468.74H354.40V468.80H355.60V468.86H356.80V468.92H358.00V468.98H359.20V469.04H360.40V469.10H361.60V469.15H362.80V469.21H364.00V469.27H365.20V469.32H366.40V469.38H367.60V469.43H368.80V469.49H370.00V469.54H371.20V469.59H372.40V469.65H373.60V469.70H374.80V469.75H376.00V469.80H377.20V469.86H378.40V469.91H379.60V469.96H380.80V470.01H382.00V470.06H383.20V470.11H384.40V470.16H385.60V470.21H386.80V470.26H388.00V470.31H389.20V470.36H390.40V470.41H391.60V470.46H392.80V470.51H394.00V470.56H395.20V470.60H396.40V470.65H397.60V470.70H398.80V470.75H400.00V470.80H401.20V470.85H402.40V470.89H403.60V470.94H404.80V470.99H406.00V471.04H407.20V471.09H408.40V471.13H409.60V471.18H410.80V471.23H412.00V471.28H413.20V471.33H414.40V471.37H415.60V471.42H416.80V471.47H418.00V471.52H419.20V471.57H420.40V471.62H421.60V471.66H422.80V471.71H424.00V471.76H425.20V471.81H426.40V471.86H427.60V471.91H428.80V471.96H430.00V472.01H431.20V472.06H432.40V472.11H433.60V472.16H434.80V472.21H436.00V472.26H437.20V472.31H438.40V472.37H439.60V472.42H440.80V472.47H442.00V472.52H443.20V472.58H444.40V472.63H445.60V472.68H446.80V472.74H448.00V472.79H449.20V472.85H450.40V472.90H451.60V472.96H452.80V473.02H454.00V473.07H455.20V473.13H456.40V473.19H457.60V473.25H458.80V473.30H460.00V473.36H461.20V473.42H462.40V473.48H463.60V473.54H464.80V473.61H466.00V473.67H467.20V473.73H468.40V473.79H469.60V473.86H470.80V473.92H472.00V473.99H473.20V474.05H474.40V474.12H475.60V474.19H476.80V474.25H478.00V474.32H479.20V474.39H480.40V474.46H481.60V474.53H482.80V474.60H484.00V474.68H485.20V474.75H486.20V474.81" fill="none" stroke="#5e8a48" stroke-width="1.3" stroke-linejoin="miter" stroke-linecap="butt"/>
<path d="M92.80,346.50H94.30V350.01H95.80V353.40H97.30V356.66H98.80V359.66H100.30V362.41H101.80V365.47H103.30V369.46H104.80V374.63H106.30V380.17H107.80V385.30H109.30V390.27H110.80V394.94H112.30V399.07H113.80V402.85H115.30V406.29H116.80V409.46H118.30V412.43H119.80V415.25H121.30V417.98H122.80V420.58H124.30V423.07H125.80V425.50H127.30V427.91H128.80V430.33H130.30V432.82H131.80V435.87H133.30V438.69H134.80V440.07H136.30V440.54H137.80V440.88H139.30V441.13H140.80V441.32H142.30V441.50H143.80V441.65H145.30V441.74H146.80V441.81H148.30V441.90H149.80V442.04H151.30V442.26H152.80V443.94H154.30V446.63H155.80V447.55H157.30V448.14H158.80V448.58H160.30V448.95H161.80V449.33H163.30V449.81H164.80V450.48H166.30V451.35H167.80V452.09H169.30V452.46H170.80V452.71H172.30V452.90H173.80V453.05H175.30V453.19H176.80V453.32H178.30V453.47H179.80V453.65H181.30V453.88H182.80V454.14H184.30V454.50H185.80V455.24H187.30V456.51H187.70V456.90H189.2V459.7H200V462.8H204.6V464.4H236.2V467.4H238.5V468.5H254.5V471.7H269.5V473.7H292.5V475.4H299.2V479.1H452.3V480.9H486.2" fill="none" stroke="#3b37b2" stroke-width="1.3" stroke-linejoin="miter" stroke-linecap="butt"/>
<path d="M92.8,346.5H95.0V368.3H101.2V412.0H105.0V433.8H112.5V455.7H130.0V477.5H157.5V499.3H348.5V521.1H486.2V521.1" fill="none" stroke="#332f9e" stroke-width="1.3" stroke-linejoin="miter" stroke-linecap="butt" stroke-dasharray="3.5,2.4"/>
<text x="1.50" y="750.60" font-size="25.5" text-anchor="start" font-weight="bold" fill="#000">C</text>
<line x1="86.3" y1="734.5" x2="86.3" y2="962.8" stroke="#383838" stroke-width="1.5"/>
<line x1="85.8" y1="962.5" x2="511.2" y2="962.5" stroke="#383838" stroke-width="1.5"/>
<line x1="81.3" y1="953.6" x2="86.3" y2="953.6" stroke="#383838" stroke-width="1.5"/>
<text x="77.30" y="958.70" font-size="14.4" text-anchor="end" fill="#111" stroke="#111" stroke-width="0.4">0.0</text>
<line x1="81.3" y1="911.6" x2="86.3" y2="911.6" stroke="#383838" stroke-width="1.5"/>
<text x="77.30" y="916.70" font-size="14.4" text-anchor="end" fill="#111" stroke="#111" stroke-width="0.4">0.2</text>
<line x1="81.3" y1="869.6" x2="86.3" y2="869.6" stroke="#383838" stroke-width="1.5"/>
<text x="77.30" y="874.70" font-size="14.4" text-anchor="end" fill="#111" stroke="#111" stroke-width="0.4">0.4</text>
<line x1="81.3" y1="827.6" x2="86.3" y2="827.6" stroke="#383838" stroke-width="1.5"/>
<text x="77.30" y="832.70" font-size="14.4" text-anchor="end" fill="#111" stroke="#111" stroke-width="0.4">0.6</text>
<line x1="81.3" y1="785.6" x2="86.3" y2="785.6" stroke="#383838" stroke-width="1.5"/>
<text x="77.30" y="790.70" font-size="14.4" text-anchor="end" fill="#111" stroke="#111" stroke-width="0.4">0.8</text>
<line x1="81.3" y1="743.6" x2="86.3" y2="743.6" stroke="#383838" stroke-width="1.5"/>
<text x="77.30" y="748.70" font-size="14.4" text-anchor="end" fill="#111" stroke="#111" stroke-width="0.4"> .00</text>
<path d="M583 0H763V1472H645Q598 1377 485 1276Q372 1175 221 1104V930Q306 961 412 1023Q518 1085 583 1147Z" transform="translate(49.27 748.70) scale(0.007031 -0.007031)" fill="#111" stroke="#111" stroke-width="56.9"/>
<line x1="95.1" y1="962.5" x2="95.1" y2="968.4" stroke="#383838" stroke-width="1.5"/>
<text x="95.10" y="985.00" font-size="14.4" text-anchor="middle" fill="#111" stroke="#111" stroke-width="0.4">0</text>
<line x1="176.4" y1="962.5" x2="176.4" y2="968.4" stroke="#383838" stroke-width="1.5"/>
<path d="M583 0H763V1472H645Q598 1377 485 1276Q372 1175 221 1104V930Q306 961 412 1023Q518 1085 583 1147Z" transform="translate(172.38 985.00) scale(0.007031 -0.007031)" fill="#111" stroke="#111" stroke-width="56.9"/>
<line x1="257.7" y1="962.5" x2="257.7" y2="968.4" stroke="#383838" stroke-width="1.5"/>
<text x="257.66" y="985.00" font-size="14.4" text-anchor="middle" fill="#111" stroke="#111" stroke-width="0.4">2</text>
<line x1="338.9" y1="962.5" x2="338.9" y2="968.4" stroke="#383838" stroke-width="1.5"/>
<text x="338.94" y="985.00" font-size="14.4" text-anchor="middle" fill="#111" stroke="#111" stroke-width="0.4">3</text>
<line x1="420.2" y1="962.5" x2="420.2" y2="968.4" stroke="#383838" stroke-width="1.5"/>
<text x="420.22" y="985.00" font-size="14.4" text-anchor="middle" fill="#111" stroke="#111" stroke-width="0.4">4</text>
<line x1="501.5" y1="962.5" x2="501.5" y2="968.4" stroke="#383838" stroke-width="1.5"/>
<text x="501.50" y="985.00" font-size="14.4" text-anchor="middle" fill="#111" stroke="#111" stroke-width="0.4">5</text>
<text x="298.20" y="998.20" font-size="13.8" text-anchor="middle" textLength="166.5" lengthAdjust="spacingAndGlyphs" fill="#111" stroke="#111" stroke-width="0.4">Years after transplantation</text>
<text x="39.20" y="849.60" font-size="14.2" text-anchor="middle" textLength="139.5" lengthAdjust="spacingAndGlyphs" transform="rotate(-90 39.2 849.6)" fill="#111" stroke="#111" stroke-width="0.4">Probability of survival</text>
<text x="37.00" y="1011.10" font-size="14.9" text-anchor="start" fill="#111" stroke="#111" stroke-width="0.55">Number at risk</text>
<text x="54.60" y="1033.60" font-size="14.6" text-anchor="middle" fill="#111" stroke="#111" stroke-width="0.55">0</text>
<text x="110.20" y="1033.60" font-size="14.6" text-anchor="end" fill="#111" stroke="#111" stroke-width="0.55">3684</text>
<text x="192.30" y="1033.60" font-size="14.6" text-anchor="end" fill="#111" stroke="#111" stroke-width="0.55">2380</text>
<text x="273.50" y="1033.60" font-size="14.6" text-anchor="end" fill="#111" stroke="#111" stroke-width="0.55"> 854</text>
<path d="M583 0H763V1472H645Q598 1377 485 1276Q372 1175 221 1104V930Q306 961 412 1023Q518 1085 583 1147Z" transform="translate(241.02 1033.60) scale(0.007129 -0.007129)" fill="#111" stroke="#111" stroke-width="77.2"/>
<text x="354.80" y="1033.60" font-size="14.6" text-anchor="end" fill="#111" stroke="#111" stroke-width="0.55"> 534</text>
<path d="M583 0H763V1472H645Q598 1377 485 1276Q372 1175 221 1104V930Q306 961 412 1023Q518 1085 583 1147Z" transform="translate(322.32 1033.60) scale(0.007129 -0.007129)" fill="#111" stroke="#111" stroke-width="77.2"/>
<text x="436.90" y="1033.60" font-size="14.6" text-anchor="end" fill="#111" stroke="#111" stroke-width="0.55"> 305</text>
<path d="M583 0H763V1472H645Q598 1377 485 1276Q372 1175 221 1104V930Q306 961 412 1023Q518 1085 583 1147Z" transform="translate(404.42 1033.60) scale(0.007129 -0.007129)" fill="#111" stroke="#111" stroke-width="77.2"/>
<text x="517.20" y="1033.60" font-size="14.6" text-anchor="end" fill="#111" stroke="#111" stroke-width="0.55">  52</text>
<path d="M583 0H763V1472H645Q598 1377 485 1276Q372 1175 221 1104V930Q306 961 412 1023Q518 1085 583 1147Z" transform="translate(484.72 1033.60) scale(0.007129 -0.007129)" fill="#111" stroke="#111" stroke-width="77.2"/>
<path d="M583 0H763V1472H645Q598 1377 485 1276Q372 1175 221 1104V930Q306 961 412 1023Q518 1085 583 1147Z" transform="translate(492.84 1033.60) scale(0.007129 -0.007129)" fill="#111" stroke="#111" stroke-width="77.2"/>
<path d="M583 0H763V1472H645Q598 1377 485 1276Q372 1175 221 1104V930Q306 961 412 1023Q518 1085 583 1147Z" transform="translate(50.54 1049.75) scale(0.007129 -0.007129)" fill="#111" stroke="#111" stroke-width="77.2"/>
<text x="110.20" y="1049.75" font-size="14.6" text-anchor="end" fill="#111" stroke="#111" stroke-width="0.55"> 633</text>
<path d="M583 0H763V1472H645Q598 1377 485 1276Q372 1175 221 1104V930Q306 961 412 1023Q518 1085 583 1147Z" transform="translate(77.72 1049.75) scale(0.007129 -0.007129)" fill="#111" stroke="#111" stroke-width="77.2"/>
<text x="192.30" y="1049.75" font-size="14.6" text-anchor="end" fill="#111" stroke="#111" stroke-width="0.55">950</text>
<text x="273.50" y="1049.75" font-size="14.6" text-anchor="end" fill="#111" stroke="#111" stroke-width="0.55">749</text>
<text x="354.80" y="1049.75" font-size="14.6" text-anchor="end" fill="#111" stroke="#111" stroke-width="0.55">633</text>
<text x="436.90" y="1049.75" font-size="14.6" text-anchor="end" fill="#111" stroke="#111" stroke-width="0.55">54 </text>
<path d="M583 0H763V1472H645Q598 1377 485 1276Q372 1175 221 1104V930Q306 961 412 1023Q518 1085 583 1147Z" transform="translate(428.78 1049.75) scale(0.007129 -0.007129)" fill="#111" stroke="#111" stroke-width="77.2"/>
<text x="517.20" y="1049.75" font-size="14.6" text-anchor="end" fill="#111" stroke="#111" stroke-width="0.55">46 </text>
<path d="M583 0H763V1472H645Q598 1377 485 1276Q372 1175 221 1104V930Q306 961 412 1023Q518 1085 583 1147Z" transform="translate(509.08 1049.75) scale(0.007129 -0.007129)" fill="#111" stroke="#111" stroke-width="77.2"/>
<text x="54.60" y="1065.90" font-size="14.6" text-anchor="middle" fill="#111" stroke="#111" stroke-width="0.55">2</text>
<text x="110.20" y="1065.90" font-size="14.6" text-anchor="end" fill="#111" stroke="#111" stroke-width="0.55"> 387</text>
<path d="M583 0H763V1472H645Q598 1377 485 1276Q372 1175 221 1104V930Q306 961 412 1023Q518 1085 583 1147Z" transform="translate(77.72 1065.90) scale(0.007129 -0.007129)" fill="#111" stroke="#111" stroke-width="77.2"/>
<text x="192.30" y="1065.90" font-size="14.6" text-anchor="end" fill="#111" stroke="#111" stroke-width="0.55">767</text>
<text x="273.50" y="1065.90" font-size="14.6" text-anchor="end" fill="#111" stroke="#111" stroke-width="0.55">60 </text>
<path d="M583 0H763V1472H645Q598 1377 485 1276Q372 1175 221 1104V930Q306 961 412 1023Q518 1085 583 1147Z" transform="translate(265.38 1065.90) scale(0.007129 -0.007129)" fill="#111" stroke="#111" stroke-width="77.2"/>
<text x="354.80" y="1065.90" font-size="14.6" text-anchor="end" fill="#111" stroke="#111" stroke-width="0.55">502</text>
<text x="436.90" y="1065.90" font-size="14.6" text-anchor="end" fill="#111" stroke="#111" stroke-width="0.55">4 2</text>
<path d="M583 0H763V1472H645Q598 1377 485 1276Q372 1175 221 1104V930Q306 961 412 1023Q518 1085 583 1147Z" transform="translate(420.66 1065.90) scale(0.007129 -0.007129)" fill="#111" stroke="#111" stroke-width="77.2"/>
<text x="517.20" y="1065.90" font-size="14.6" text-anchor="end" fill="#111" stroke="#111" stroke-width="0.55">340</text>
<text x="54.60" y="1082.05" font-size="14.6" text-anchor="middle" fill="#111" stroke="#111" stroke-width="0.55">3</text>
<text x="110.20" y="1082.05" font-size="14.6" text-anchor="end" fill="#111" stroke="#111" stroke-width="0.55">60 </text>
<path d="M583 0H763V1472H645Q598 1377 485 1276Q372 1175 221 1104V930Q306 961 412 1023Q518 1085 583 1147Z" transform="translate(102.08 1082.05) scale(0.007129 -0.007129)" fill="#111" stroke="#111" stroke-width="77.2"/>
<text x="192.30" y="1082.05" font-size="14.6" text-anchor="end" fill="#111" stroke="#111" stroke-width="0.55">3 5</text>
<path d="M583 0H763V1472H645Q598 1377 485 1276Q372 1175 221 1104V930Q306 961 412 1023Q518 1085 583 1147Z" transform="translate(176.06 1082.05) scale(0.007129 -0.007129)" fill="#111" stroke="#111" stroke-width="77.2"/>
<text x="273.50" y="1082.05" font-size="14.6" text-anchor="end" fill="#111" stroke="#111" stroke-width="0.55">250</text>
<text x="354.80" y="1082.05" font-size="14.6" text-anchor="end" fill="#111" stroke="#111" stroke-width="0.55">2 6</text>
<path d="M583 0H763V1472H645Q598 1377 485 1276Q372 1175 221 1104V930Q306 961 412 1023Q518 1085 583 1147Z" transform="translate(338.56 1082.05) scale(0.007129 -0.007129)" fill="#111" stroke="#111" stroke-width="77.2"/>
<text x="436.90" y="1082.05" font-size="14.6" text-anchor="end" fill="#111" stroke="#111" stroke-width="0.55"> 87</text>
<path d="M583 0H763V1472H645Q598 1377 485 1276Q372 1175 221 1104V930Q306 961 412 1023Q518 1085 583 1147Z" transform="translate(412.54 1082.05) scale(0.007129 -0.007129)" fill="#111" stroke="#111" stroke-width="77.2"/>
<text x="517.20" y="1082.05" font-size="14.6" text-anchor="end" fill="#111" stroke="#111" stroke-width="0.55"> 52</text>
<path d="M583 0H763V1472H645Q598 1377 485 1276Q372 1175 221 1104V930Q306 961 412 1023Q518 1085 583 1147Z" transform="translate(492.84 1082.05) scale(0.007129 -0.007129)" fill="#111" stroke="#111" stroke-width="77.2"/>
<text x="54.60" y="1098.20" font-size="14.6" text-anchor="middle" fill="#111" stroke="#111" stroke-width="0.55">4</text>
<text x="110.20" y="1098.20" font-size="14.6" text-anchor="end" fill="#111" stroke="#111" stroke-width="0.55"> 03</text>
<path d="M583 0H763V1472H645Q598 1377 485 1276Q372 1175 221 1104V930Q306 961 412 1023Q518 1085 583 1147Z" transform="translate(85.84 1098.20) scale(0.007129 -0.007129)" fill="#111" stroke="#111" stroke-width="77.2"/>
<text x="192.30" y="1098.20" font-size="14.6" text-anchor="end" fill="#111" stroke="#111" stroke-width="0.55">52</text>
<text x="273.50" y="1098.20" font-size="14.6" text-anchor="end" fill="#111" stroke="#111" stroke-width="0.55">43</text>
<text x="354.80" y="1098.20" font-size="14.6" text-anchor="end" fill="#111" stroke="#111" stroke-width="0.55">37</text>
<text x="436.90" y="1098.20" font-size="14.6" text-anchor="end" fill="#111" stroke="#111" stroke-width="0.55">36</text>
<text x="517.20" y="1098.20" font-size="14.6" text-anchor="end" fill="#111" stroke="#111" stroke-width="0.55">33</text>
<text x="54.60" y="1114.35" font-size="14.6" text-anchor="middle" fill="#111" stroke="#111" stroke-width="0.55">5</text>
<text x="110.20" y="1114.35" font-size="14.6" text-anchor="end" fill="#111" stroke="#111" stroke-width="0.55"> 0</text>
<path d="M583 0H763V1472H645Q598 1377 485 1276Q372 1175 221 1104V930Q306 961 412 1023Q518 1085 583 1147Z" transform="translate(93.96 1114.35) scale(0.007129 -0.007129)" fill="#111" stroke="#111" stroke-width="77.2"/>
<text x="192.30" y="1114.35" font-size="14.6" text-anchor="end" fill="#111" stroke="#111" stroke-width="0.55">3</text>
<text x="273.50" y="1114.35" font-size="14.6" text-anchor="end" fill="#111" stroke="#111" stroke-width="0.55">3</text>
<text x="354.80" y="1114.35" font-size="14.6" text-anchor="end" fill="#111" stroke="#111" stroke-width="0.55">3</text>
<text x="436.90" y="1114.35" font-size="14.6" text-anchor="end" fill="#111" stroke="#111" stroke-width="0.55">2</text>
<text x="517.20" y="1114.35" font-size="14.6" text-anchor="end" fill="#111" stroke="#111" stroke-width="0.55">2</text>
<line x1="372.3" y1="753.0" x2="408.6" y2="753.0" stroke="#222222" stroke-width="1.5"/>
<text x="421.10" y="758.40" font-size="14.8" text-anchor="middle" fill="#111" stroke="#111" stroke-width="0.55">0</text>
<line x1="372.3" y1="772.5" x2="408.6" y2="772.5" stroke="#c23c48" stroke-width="1.5"/>
<path d="M583 0H763V1472H645Q598 1377 485 1276Q372 1175 221 1104V930Q306 961 412 1023Q518 1085 583 1147Z" transform="translate(416.98 777.90) scale(0.007227 -0.007227)" fill="#111" stroke="#111" stroke-width="76.1"/>
<line x1="372.3" y1="792.5" x2="408.6" y2="792.5" stroke="#5e8a48" stroke-width="1.5"/>
<text x="421.10" y="797.90" font-size="14.8" text-anchor="middle" fill="#111" stroke="#111" stroke-width="0.55">2</text>
<line x1="446.2" y1="753.0" x2="483.1" y2="753.0" stroke="#3b37b2" stroke-width="1.5"/>
<text x="495.00" y="758.40" font-size="14.8" text-anchor="middle" fill="#111" stroke="#111" stroke-width="0.55">3</text>
<line x1="446.2" y1="772.5" x2="483.1" y2="772.5" stroke="#332f9e" stroke-width="1.5" stroke-dasharray="3.7,2.6"/>
<text x="495.00" y="777.90" font-size="14.8" text-anchor="middle" fill="#111" stroke="#111" stroke-width="0.55">4</text>
<line x1="446.2" y1="792.5" x2="483.1" y2="792.5" stroke="#587650" stroke-width="1.5" stroke-dasharray="3.7,2.6"/>
<text x="495.00" y="797.90" font-size="14.8" text-anchor="middle" fill="#111" stroke="#111" stroke-width="0.55">5</text>
<path d="M95.10,743.60H96.30V745.20H97.50V746.83H98.70V748.43H99.90V750.00H101.10V751.56H102.30V753.09H103.50V754.59H104.70V756.07H105.90V757.53H107.10V758.96H108.30V760.38H109.50V761.76H110.70V763.13H111.90V764.47H113.10V765.79H114.30V767.08H115.50V768.35H116.70V769.60H117.90V770.82H119.10V772.03H120.30V773.21H121.50V774.36H122.70V775.49H123.90V776.61H125.10V777.69H126.30V778.76H127.50V779.80H128.70V780.82H129.90V781.82H131.10V782.80H132.30V783.75H133.50V784.68H134.70V785.59H135.90V786.48H137.10V787.35H138.30V788.20H139.50V789.03H140.70V789.84H141.90V790.63H143.10V791.40H144.30V792.15H145.50V792.89H146.70V793.61H147.90V794.31H149.10V795.00H150.30V795.66H151.50V796.32H152.70V796.96H153.90V797.58H155.10V798.19H156.30V798.78H157.50V799.36H158.70V799.93H159.90V800.48H161.10V801.02H162.30V801.55H163.50V802.07H164.70V802.58H165.90V803.07H167.10V803.55H168.30V804.03H169.50V804.49H170.70V804.95H171.90V805.39H173.10V805.83H174.30V806.26H175.50V806.68H176.70V807.09H177.90V807.50H179.10V807.90H180.30V808.29H181.50V808.67H182.70V809.06H183.90V809.43H185.10V809.80H186.30V810.17H187.50V810.53H188.70V810.89H189.90V811.25H191.10V811.60H192.30V811.95H193.50V812.30H194.70V812.64H195.90V812.98H197.10V813.32H198.30V813.65H199.50V813.98H200.70V814.31H201.90V814.64H203.10V814.96H204.30V815.28H205.50V815.59H206.70V815.90H207.90V816.21H209.10V816.52H210.30V816.82H211.50V817.12H212.70V817.42H213.90V817.72H215.10V818.01H216.30V818.30H217.50V818.58H218.70V818.87H219.90V819.15H221.10V819.42H222.30V819.70H223.50V819.97H224.70V820.24H225.90V820.51H227.10V820.77H228.30V821.03H229.50V821.29H230.70V821.54H231.90V821.80H233.10V822.05H234.30V822.29H235.50V822.54H236.70V822.78H237.90V823.02H239.10V823.26H240.30V823.49H241.50V823.73H242.70V823.95H243.90V824.18H245.10V824.41H246.30V824.63H247.50V824.85H248.70V825.07H249.90V825.28H251.10V825.49H252.30V825.70H253.50V825.91H254.70V826.11H255.90V826.32H257.10V826.52H258.30V826.72H259.50V826.91H260.70V827.11H261.90V827.30H263.10V827.49H264.30V827.67H265.50V827.86H266.70V828.04H267.90V828.22H269.10V828.40H270.30V828.57H271.50V828.75H272.70V828.92H273.90V829.09H275.10V829.26H276.30V829.42H277.50V829.59H278.70V829.75H279.90V829.91H281.10V830.06H282.30V830.22H283.50V830.37H284.70V830.52H285.90V830.67H287.10V830.82H288.30V830.97H289.50V831.11H290.70V831.25H291.90V831.39H293.10V831.53H294.30V831.67H295.50V831.80H296.70V831.93H297.90V832.06H299.10V832.19H300.30V832.32H301.50V832.45H302.70V832.57H303.90V832.69H305.10V832.81H306.30V832.93H307.50V833.05H308.70V833.16H309.90V833.28H311.10V833.39H312.30V833.50H313.50V833.61H314.70V833.72H315.90V833.83H317.10V833.93H318.30V834.03H319.50V834.13H320.70V834.24H321.90V834.33H323.10V834.43H324.30V834.53H325.50V834.62H326.70V834.71H327.90V834.81H329.10V834.90H330.30V834.99H331.50V835.07H332.70V835.16H333.90V835.25H335.10V835.33H336.30V835.41H337.50V835.49H338.70V835.57H339.90V835.65H341.10V835.73H342.30V835.81H343.50V835.88H344.70V835.96H345.90V836.03H347.10V836.10H348.30V836.17H349.50V836.24H350.70V836.31H351.90V836.38H353.10V836.45H354.30V836.51H355.50V836.58H356.70V836.64H357.90V836.70H359.10V836.76H360.30V836.82H361.50V836.88H362.70V836.94H363.90V837.00H365.10V837.06H366.30V837.12H367.50V837.17H368.70V837.23H369.90V837.28H371.10V837.33H372.30V837.39H373.50V837.44H374.70V837.49H375.90V837.54H377.10V837.59H378.30V837.64H379.50V837.69H380.70V837.73H381.90V837.78H383.10V837.83H384.30V837.87H385.50V837.92H386.70V837.96H387.90V838.00H389.10V838.05H390.30V838.09H391.50V838.13H392.70V838.18H393.90V838.22H395.10V838.26H396.30V838.30H397.50V838.34H398.70V838.38H399.90V838.42H401.10V838.46H402.30V838.49H403.50V838.53H404.70V838.57H405.90V838.61H407.10V838.65H408.30V838.68H409.50V838.72H410.70V838.76H411.90V838.79H413.10V838.83H414.30V838.86H415.50V838.90H416.70V838.93H417.90V838.97H419.10V839.00H420.30V839.04H421.50V839.07H422.70V839.11H423.90V839.14H425.10V839.18H426.30V839.21H427.50V839.25H428.70V839.28H429.90V839.32H431.10V839.35H432.30V839.39H433.50V839.42H434.70V839.46H435.90V839.49H437.10V839.53H438.30V839.56H439.50V839.60H440.70V839.63H441.90V839.67H443.10V839.70H444.30V839.74H445.50V839.78H446.70V839.81H447.90V839.85H449.10V839.89H450.30V839.92H451.50V839.96H452.70V840.00H453.90V840.04H455.10V840.08H456.30V840.12H457.50V840.16H458.70V840.20H459.90V840.24H461.10V840.28H462.30V840.32H463.50V840.36H464.70V840.40H465.90V840.44H467.10V840.49H468.30V840.53H469.50V840.57H470.70V840.62H471.90V840.66H473.10V840.71H474.30V840.76H475.50V840.80H476.70V840.85H477.90V840.90H479.10V840.95H480.30V841.00H481.50V841.05H482.70V841.10H483.90V841.15H485.10V841.21H486.30V841.26H487.50V841.31H488.70V841.37H489.90V841.43H491.10V841.48H492.30V841.54H493.50V841.60H494.70V841.66H495.90V841.72H497.10V841.78H498.30V841.84H499.50V841.91H500.70V841.97H501.80V842.03" fill="none" stroke="#222222" stroke-width="1.3" stroke-linejoin="miter" stroke-linecap="butt"/>
<path d="M95.10,743.60H96.30V746.09H97.50V748.64H98.70V751.21H99.90V753.78H101.10V756.33H102.30V758.84H103.50V761.30H104.70V763.68H105.90V765.99H107.10V768.21H108.30V770.37H109.50V772.45H110.70V774.46H111.90V776.40H113.10V778.27H114.30V780.08H115.50V781.83H116.70V783.51H117.90V785.14H119.10V786.72H120.30V788.23H121.50V789.70H122.70V791.12H123.90V792.50H125.10V793.82H126.30V795.11H127.50V796.36H128.70V797.57H129.90V798.75H131.10V799.89H132.30V801.00H133.50V802.08H134.70V803.13H135.90V804.15H137.10V805.14H138.30V806.11H139.50V807.04H140.70V807.95H141.90V808.83H143.10V809.68H144.30V810.51H145.50V811.31H146.70V812.09H147.90V812.85H149.10V813.58H150.30V814.29H151.50V814.97H152.70V815.64H153.90V816.28H155.10V816.90H156.30V817.51H157.50V818.09H158.70V818.66H159.90V819.21H161.10V819.74H162.30V820.25H163.50V820.75H164.70V821.24H165.90V821.70H167.10V822.16H168.30V822.60H169.50V823.03H170.70V823.44H171.90V823.84H173.10V824.23H174.30V824.61H175.50V824.98H176.70V825.35H177.90V825.70H179.10V826.04H180.30V826.38H181.50V826.71H182.70V827.03H183.90V827.34H185.10V827.66H186.30V827.96H187.50V828.26H188.70V828.56H189.90V828.86H191.10V829.15H192.30V829.44H193.50V829.73H194.70V830.01H195.90V830.29H197.10V830.57H198.30V830.84H199.50V831.11H200.70V831.38H201.90V831.65H203.10V831.91H204.30V832.17H205.50V832.43H206.70V832.68H207.90V832.94H209.10V833.18H210.30V833.43H211.50V833.67H212.70V833.92H213.90V834.15H215.10V834.39H216.30V834.62H217.50V834.85H218.70V835.08H219.90V835.31H221.10V835.53H222.30V835.75H223.50V835.97H224.70V836.18H225.90V836.39H227.10V836.60H228.30V836.81H229.50V837.02H230.70V837.22H231.90V837.42H233.10V837.62H234.30V837.81H235.50V838.01H236.70V838.20H237.90V838.39H239.10V838.57H240.30V838.76H241.50V838.94H242.70V839.12H243.90V839.30H245.10V839.47H246.30V839.64H247.50V839.81H248.70V839.98H249.90V840.15H251.10V840.31H252.30V840.48H253.50V840.64H254.70V840.79H255.90V840.95H257.10V841.10H258.30V841.26H259.50V841.41H260.70V841.55H261.90V841.70H263.10V841.85H264.30V841.99H265.50V842.13H266.70V842.27H267.90V842.40H269.10V842.54H270.30V842.67H271.50V842.80H272.70V842.93H273.90V843.06H275.10V843.19H276.30V843.31H277.50V843.43H278.70V843.55H279.90V843.67H281.10V843.79H282.30V843.91H283.50V844.02H284.70V844.13H285.90V844.24H287.10V844.35H288.30V844.46H289.50V844.57H290.70V844.67H291.90V844.77H293.10V844.88H294.30V844.98H295.50V845.08H296.70V845.17H297.90V845.27H299.10V845.36H300.30V845.46H301.50V845.55H302.70V845.64H303.90V845.73H305.10V845.82H306.30V845.91H307.50V845.99H308.70V846.08H309.90V846.16H311.10V846.24H312.30V846.32H313.50V846.40H314.70V846.48H315.90V846.56H317.10V846.63H318.30V846.71H319.50V846.78H320.70V846.85H321.90V846.93H323.10V847.00H324.30V847.07H325.50V847.14H326.70V847.20H327.90V847.27H329.10V847.34H330.30V847.40H331.50V847.47H332.70V847.53H333.90V847.59H335.10V847.66H336.30V847.72H337.50V847.78H338.70V847.84H339.90V847.89H341.10V847.95H342.30V848.01H343.50V848.07H344.70V848.12H345.90V848.18H347.10V848.23H348.30V848.28H349.50V848.34H350.70V848.39H351.90V848.44H353.10V848.49H354.30V848.54H355.50V848.59H356.70V848.64H357.90V848.69H359.10V848.74H360.30V848.79H361.50V848.84H362.70V848.89H363.90V848.93H365.10V848.98H366.30V849.03H367.50V849.07H368.70V849.12H369.90V849.16H371.10V849.21H372.30V849.25H373.50V849.30H374.70V849.34H375.90V849.39H377.10V849.43H378.30V849.47H379.50V849.52H380.70V849.56H381.90V849.61H383.10V849.65H384.30V849.69H385.50V849.73H386.70V849.78H387.90V849.82H389.10V849.86H390.30V849.91H391.50V849.95H392.70V849.99H393.90V850.04H395.10V850.08H396.30V850.12H397.50V850.17H398.70V850.21H399.90V850.25H401.10V850.30H402.30V850.34H403.50V850.38H404.70V850.43H405.90V850.47H407.10V850.52H408.30V850.56H409.50V850.61H410.70V850.66H411.90V850.70H413.10V850.75H414.30V850.79H415.50V850.84H416.70V850.89H417.90V850.94H419.10V850.99H420.30V851.03H421.50V851.08H422.70V851.13H423.90V851.18H425.10V851.24H426.30V851.29H427.50V851.34H428.70V851.39H429.90V851.45H431.10V851.50H432.30V851.55H433.50V851.61H434.70V851.66H435.90V851.72H437.10V851.78H438.30V851.84H439.50V851.90H440.70V851.96H441.90V852.02H443.10V852.08H444.30V852.14H445.50V852.20H446.70V852.26H447.90V852.33H449.10V852.39H450.30V852.46H451.50V852.53H452.70V852.60H453.90V852.67H455.10V852.74H456.30V852.81H457.50V852.88H458.70V852.95H459.90V853.03H461.10V853.10H462.30V853.18H463.50V853.26H464.70V853.34H465.90V853.42H467.10V853.50H468.30V853.58H469.50V853.66H470.70V853.75H471.90V853.83H473.10V853.92H474.30V854.01H475.50V854.10H476.70V854.19H477.90V854.28H479.10V854.38H480.30V854.47H481.50V854.57H482.70V854.66H483.90V854.76H485.10V854.86H486.30V854.97H487.50V855.07H488.70V855.18H489.90V855.28H491.10V855.39H492.30V855.50H493.50V855.61H494.70V855.73H495.90V855.84H497.10V855.96H498.30V856.07H499.50V856.19H500.70V856.31H501.80V856.43" fill="none" stroke="#c23c48" stroke-width="1.3" stroke-linejoin="miter" stroke-linecap="butt"/>
<path d="M95.10,743.60H96.30V746.92H97.50V750.16H98.70V753.32H99.90V756.39H101.10V759.37H102.30V762.26H103.50V765.07H104.70V767.80H105.90V770.44H107.10V773.01H108.30V775.49H109.50V777.90H110.70V780.23H111.90V782.49H113.10V784.67H114.30V786.78H115.50V788.82H116.70V790.79H117.90V792.69H119.10V794.53H120.30V796.31H121.50V798.03H122.70V799.68H123.90V801.28H125.10V802.83H126.30V804.32H127.50V805.77H128.70V807.16H129.90V808.51H131.10V809.82H132.30V811.08H133.50V812.31H134.70V813.49H135.90V814.64H137.10V815.76H138.30V816.85H139.50V817.90H140.70V818.93H141.90V819.93H143.10V820.90H144.30V821.84H145.50V822.75H146.70V823.64H147.90V824.50H149.10V825.34H150.30V826.15H151.50V826.94H152.70V827.70H153.90V828.43H155.10V829.15H156.30V829.84H157.50V830.51H158.70V831.16H159.90V831.79H161.10V832.39H162.30V832.98H163.50V833.54H164.70V834.09H165.90V834.61H167.10V835.12H168.30V835.61H169.50V836.09H170.70V836.54H171.90V836.98H173.10V837.41H174.30V837.81H175.50V838.21H176.70V838.59H177.90V838.95H179.10V839.30H180.30V839.64H181.50V839.97H182.70V840.28H183.90V840.58H185.10V840.87H186.30V841.15H187.50V841.42H188.70V841.68H189.90V841.93H191.10V842.18H192.30V842.41H193.50V842.64H194.70V842.86H195.90V843.07H197.10V843.28H198.30V843.48H199.50V843.67H200.70V843.86H201.90V844.05H203.10V844.23H204.30V844.41H205.50V844.59H206.70V844.76H207.90V844.93H209.10V845.10H210.30V845.27H211.50V845.44H212.70V845.61H213.90V845.77H215.10V845.93H216.30V846.10H217.50V846.26H218.70V846.42H219.90V846.57H221.10V846.73H222.30V846.89H223.50V847.04H224.70V847.19H225.90V847.34H227.10V847.49H228.30V847.64H229.50V847.79H230.70V847.93H231.90V848.08H233.10V848.22H234.30V848.36H235.50V848.51H236.70V848.64H237.90V848.78H239.10V848.92H240.30V849.06H241.50V849.19H242.70V849.32H243.90V849.45H245.10V849.59H246.30V849.72H247.50V849.84H248.70V849.97H249.90V850.10H251.10V850.22H252.30V850.35H253.50V850.47H254.70V850.59H255.90V850.71H257.10V850.83H258.30V850.95H259.50V851.06H260.70V851.18H261.90V851.29H263.10V851.41H264.30V851.52H265.50V851.63H266.70V851.74H267.90V851.85H269.10V851.96H270.30V852.07H271.50V852.17H272.70V852.28H273.90V852.38H275.10V852.48H276.30V852.59H277.50V852.69H278.70V852.79H279.90V852.89H281.10V852.98H282.30V853.08H283.50V853.18H284.70V853.27H285.90V853.37H287.10V853.46H288.30V853.55H289.50V853.65H290.70V853.74H291.90V853.83H293.10V853.91H294.30V854.00H295.50V854.09H296.70V854.18H297.90V854.26H299.10V854.35H300.30V854.43H301.50V854.51H302.70V854.59H303.90V854.68H305.10V854.76H306.30V854.84H307.50V854.91H308.70V854.99H309.90V855.07H311.10V855.15H312.30V855.22H313.50V855.30H314.70V855.37H315.90V855.44H317.10V855.52H318.30V855.59H319.50V855.66H320.70V855.73H321.90V855.80H323.10V855.87H324.30V855.94H325.50V856.01H326.70V856.07H327.90V856.14H329.10V856.21H330.30V856.27H331.50V856.34H332.70V856.40H333.90V856.46H335.10V856.53H336.30V856.59H337.50V856.65H338.70V856.71H339.90V856.77H341.10V856.83H342.30V856.89H343.50V856.95H344.70V857.01H345.90V857.07H347.10V857.12H348.30V857.18H349.50V857.24H350.70V857.29H351.90V857.35H353.10V857.40H354.30V857.46H355.50V857.51H356.70V857.56H357.90V857.62H359.10V857.67H360.30V857.72H361.50V857.77H362.70V857.82H363.90V857.87H365.10V857.92H366.30V857.97H367.50V858.02H368.70V858.07H369.90V858.12H371.10V858.17H372.30V858.22H373.50V858.26H374.70V858.31H375.90V858.36H377.10V858.40H378.30V858.45H379.50V858.50H380.70V858.54H381.90V858.59H383.10V858.63H384.30V858.68H385.50V858.72H386.70V858.77H387.90V858.81H389.10V858.85H390.30V858.90H391.50V858.94H392.70V858.98H393.90V859.03H395.10V859.07H396.30V859.11H397.50V859.15H398.70V859.20H399.90V859.24H401.10V859.28H402.30V859.32H403.50V859.36H404.70V859.40H405.90V859.45H407.10V859.49H408.30V859.53H409.50V859.57H410.70V859.61H411.90V859.65H413.10V859.69H414.30V859.73H415.50V859.77H416.70V859.81H417.90V859.85H419.10V859.89H420.30V859.93H421.50V859.97H422.70V860.01H423.90V860.05H425.10V860.09H426.30V860.13H427.50V860.17H428.70V860.21H429.90V860.25H431.10V860.29H432.30V860.33H433.50V860.37H434.70V860.42H435.90V860.46H437.10V860.50H438.30V860.54H439.50V860.58H440.70V860.62H441.90V860.66H443.10V860.70H444.30V860.74H445.50V860.78H446.70V860.82H447.90V860.87H449.10V860.91H450.30V860.95H451.50V860.99H452.70V861.03H453.90V861.08H455.10V861.12H456.30V861.16H457.50V861.20H458.70V861.25H459.90V861.29H461.10V861.33H462.30V861.38H463.50V861.42H464.70V861.47H465.90V861.51H467.10V861.56H468.30V861.60H469.50V861.65H470.70V861.69H471.90V861.74H473.10V861.79H474.30V861.83H475.50V861.88H476.70V861.93H477.90V861.98H479.10V862.02H480.30V862.07H481.50V862.12H482.70V862.17H483.90V862.22H485.10V862.27H486.30V862.32H487.50V862.37H488.70V862.42H489.90V862.48H491.10V862.53H492.30V862.58H493.50V862.63H494.70V862.69H495.90V862.74H497.10V862.80H498.30V862.85H499.50V862.91H500.70V862.96H501.80V863.02" fill="none" stroke="#3b37b2" stroke-width="1.3" stroke-linejoin="miter" stroke-linecap="butt"/>
<path d="M95.10,743.60H96.30V746.45H97.50V749.22H98.70V751.91H99.90V754.53H101.10V757.07H102.30V759.54H103.50V761.94H104.70V764.27H105.90V766.53H107.10V768.72H108.30V770.85H109.50V772.92H110.70V774.92H111.90V776.86H113.10V778.75H114.30V780.58H115.50V782.35H116.70V784.07H117.90V785.74H119.10V787.35H120.30V788.92H121.50V790.43H122.70V791.91H123.90V793.33H125.10V794.72H126.30V796.06H127.50V797.36H128.70V798.63H129.90V799.85H131.10V801.05H132.30V802.20H133.50V803.33H134.70V804.41H135.90V805.47H137.10V806.50H138.30V807.49H139.50V808.46H140.70V809.39H141.90V810.29H143.10V811.17H144.30V812.02H145.50V812.84H146.70V813.63H147.90V814.40H149.10V815.15H150.30V815.86H151.50V816.56H152.70V817.23H153.90V817.88H155.10V818.51H156.30V819.11H157.50V819.70H158.70V820.27H159.90V820.81H161.10V821.34H162.30V821.85H163.50V822.35H164.70V822.82H165.90V823.28H167.10V823.73H168.30V824.16H169.50V824.58H170.70V824.98H171.90V825.37H173.10V825.75H174.30V826.12H175.50V826.48H176.70V826.83H177.90V827.17H179.10V827.50H180.30V827.82H181.50V828.14H182.70V828.45H183.90V828.75H185.10V829.05H186.30V829.35H187.50V829.64H188.70V829.92H189.90V830.21H191.10V830.49H192.30V830.77H193.50V831.05H194.70V831.32H195.90V831.60H197.10V831.87H198.30V832.13H199.50V832.40H200.70V832.66H201.90V832.92H203.10V833.18H204.30V833.43H205.50V833.68H206.70V833.94H207.90V834.18H209.10V834.43H210.30V834.67H211.50V834.91H212.70V835.15H213.90V835.39H215.10V835.62H216.30V835.85H217.50V836.08H218.70V836.31H219.90V836.54H221.10V836.76H222.30V836.98H223.50V837.20H224.70V837.42H225.90V837.63H227.10V837.84H228.30V838.05H229.50V838.26H230.70V838.47H231.90V838.67H233.10V838.87H234.30V839.07H235.50V839.27H236.70V839.47H237.90V839.66H239.10V839.85H240.30V840.04H241.50V840.23H242.70V840.41H243.90V840.60H245.10V840.78H246.30V840.96H247.50V841.14H248.70V841.31H249.90V841.49H251.10V841.66H252.30V841.83H253.50V842.00H254.70V842.17H255.90V842.33H257.10V842.50H258.30V842.66H259.50V842.82H260.70V842.98H261.90V843.13H263.10V843.29H264.30V843.44H265.50V843.59H266.70V843.74H267.90V843.89H269.10V844.03H270.30V844.18H271.50V844.32H272.70V844.46H273.90V844.60H275.10V844.74H276.30V844.88H277.50V845.01H278.70V845.15H279.90V845.28H281.10V845.41H282.30V845.54H283.50V845.66H284.70V845.79H285.90V845.91H287.10V846.04H288.30V846.16H289.50V846.28H290.70V846.40H291.90V846.52H293.10V846.63H294.30V846.75H295.50V846.86H296.70V846.97H297.90V847.08H299.10V847.19H300.30V847.30H301.50V847.41H302.70V847.51H303.90V847.62H305.10V847.72H306.30V847.82H307.50V847.92H308.70V848.02H309.90V848.12H311.10V848.21H312.30V848.31H313.50V848.40H314.70V848.50H315.90V848.59H317.10V848.68H318.30V848.77H319.50V848.86H320.70V848.95H321.90V849.04H323.10V849.12H324.30V849.21H325.50V849.29H326.70V849.37H327.90V849.46H329.10V849.54H330.30V849.62H331.50V849.70H332.70V849.77H333.90V849.85H335.10V849.93H336.30V850.00H337.50V850.08H338.70V850.15H339.90V850.22H341.10V850.30H342.30V850.37H343.50V850.44H344.70V850.51H345.90V850.57H347.10V850.64H348.30V850.71H349.50V850.78H350.70V850.84H351.90V850.91H353.10V850.97H354.30V851.04H355.50V851.10H356.70V851.16H357.90V851.22H359.10V851.28H360.30V851.34H361.50V851.40H362.70V851.46H363.90V851.52H365.10V851.58H366.30V851.64H367.50V851.70H368.70V851.75H369.90V851.81H371.10V851.86H372.30V851.92H373.50V851.97H374.70V852.03H375.90V852.08H377.10V852.13H378.30V852.19H379.50V852.24H380.70V852.29H381.90V852.34H383.10V852.40H384.30V852.45H385.50V852.50H386.70V852.55H387.90V852.60H389.10V852.65H390.30V852.70H391.50V852.75H392.70V852.80H393.90V852.84H395.10V852.89H396.30V852.94H397.50V852.99H398.70V853.04H399.90V853.09H401.10V853.13H402.30V853.18H403.50V853.23H404.70V853.28H405.90V853.32H407.10V853.37H408.30V853.42H409.50V853.46H410.70V853.51H411.90V853.56H413.10V853.61H414.30V853.65H415.50V853.70H416.70V853.75H417.90V853.79H419.10V853.84H420.30V853.89H421.50V853.94H422.70V853.98H423.90V854.03H425.10V854.08H426.30V854.13H427.50V854.17H428.70V854.22H429.90V854.27H431.10V854.32H432.30V854.37H433.50V854.42H434.70V854.47H435.90V854.52H437.10V854.56H438.30V854.61H439.50V854.67H440.70V854.72H441.90V854.77H443.10V854.82H444.30V854.87H445.50V854.92H446.70V854.97H447.90V855.03H449.10V855.08H450.30V855.13H451.50V855.19H452.70V855.24H453.90V855.30H455.10V855.35H456.30V855.41H457.50V855.46H458.70V855.52H459.90V855.58H461.10V855.63H462.30V855.69H463.50V855.75H464.70V855.81H465.90V855.87H467.10V855.93H468.30V855.99H469.50V856.05H470.70V856.12H471.90V856.18H473.10V856.24H474.30V856.31H475.50V856.37H476.70V856.44H477.90V856.51H479.10V856.57H480.30V856.64H481.50V856.71H482.70V856.78H483.90V856.85H485.10V856.92H486.30V856.99H487.50V857.07H488.70V857.14H489.90V857.22H491.10V857.29H492.30V857.37H493.50V857.45H494.70V857.52H495.90V857.60H497.10V857.68H498.30V857.76H499.50V857.85H500.70V857.93H501.80V858.01" fill="none" stroke="#5e8a48" stroke-width="1.3" stroke-linejoin="miter" stroke-linecap="butt" stroke-opacity="0.7"/>
<path d="M95.10,743.60H97.60V747.72H100.10V753.26H102.60V759.90H105.10V767.47H107.60V775.67H110.10V782.23H112.60V787.13H115.10V791.90H117.60V797.48H120.10V803.17H122.60V807.92H125.10V811.79H127.60V815.23H130.10V818.50H132.60V821.47H135.10V824.45H137.60V828.87H140.10V831.44H142.60V831.95H145.10V832.22H147.60V832.47H150.10V832.92H152.60V833.88H155.10V835.24H157.60V836.69H160.10V837.92H162.60V838.91H165.10V839.84H167.60V840.81H170.10V841.93H172.60V843.23H173.10V843.50H191.3V850.2H203.8V854H243V858.3H260V863.2H298.5V865.4H304.6V869.6H465.9V872.1H501.8" fill="none" stroke="#332f9e" stroke-width="1.3" stroke-linejoin="miter" stroke-linecap="butt" stroke-dasharray="3.6,2.6"/>
<path d="M95.1,743.6H97.5V764.6H104.2V806.6H108.0V827.6H115.0V848.6H133.0V869.6H161.8V890.6H358.5V911.6H501.8V911.6" fill="none" stroke="#587650" stroke-width="1.3" stroke-linejoin="miter" stroke-linecap="butt" stroke-dasharray="3.6,2.6"/></svg>
</body></html>
